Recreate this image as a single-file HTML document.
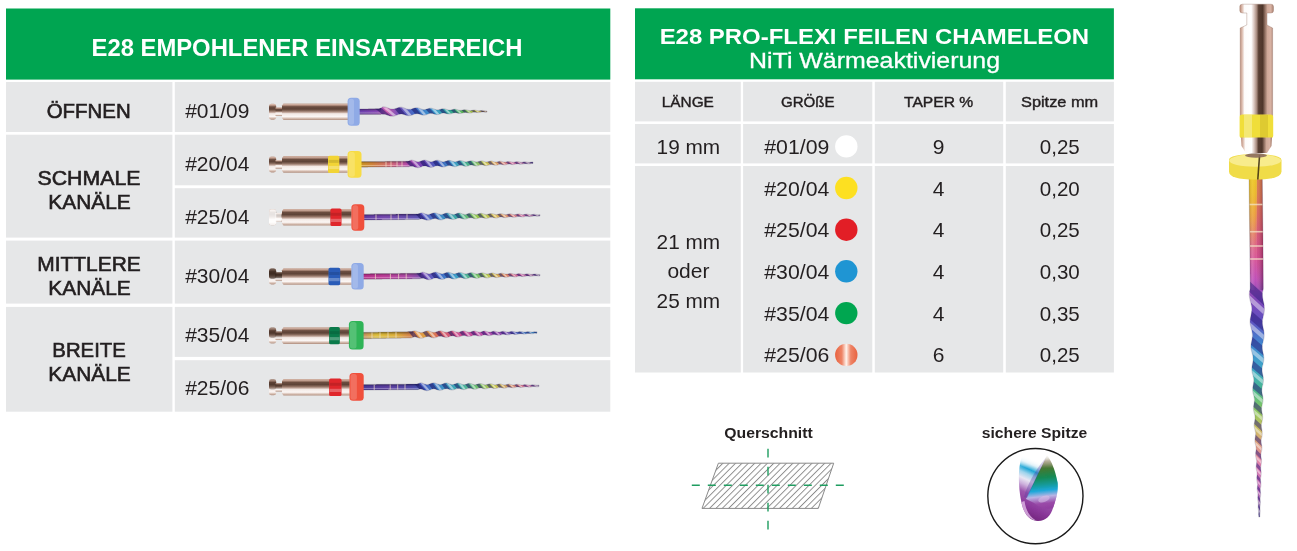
<!DOCTYPE html>
<html lang="de"><head><meta charset="utf-8"><title>E28 Pro-Flexi Feilen Chameleon</title>
<style>html,body{margin:0;padding:0;background:#fff;width:1297px;height:551px;overflow:hidden}svg{display:block}text{white-space:pre}</style></head>
<body>
<svg width="1297" height="551" viewBox="0 0 1297 551" font-family="'Liberation Sans', sans-serif"><defs><linearGradient id="orb" x1="0" x2="1" y1="0" y2="0"><stop offset="0" stop-color="#e8623f"/><stop offset="0.3" stop-color="#ee8466"/><stop offset="0.5" stop-color="#fff3ec"/><stop offset="0.7" stop-color="#ee8466"/><stop offset="1" stop-color="#e8623f"/></linearGradient><pattern id="hatch" width="4.5" height="4.5" patternUnits="userSpaceOnUse" patternTransform="translate(702.6 508.3) rotate(45)"><rect width="4.5" height="4.5" fill="#fff"/><line x1="0.5" y1="-1" x2="0.5" y2="6" stroke="#7f7f7f" stroke-width="0.85"/></pattern><filter id="bl" x="-20%" y="-20%" width="140%" height="140%"><feGaussianBlur stdDeviation="0.6"/></filter><linearGradient id="tipL" gradientUnits="userSpaceOnUse" x1="1044" y1="450" x2="1016" y2="512"><stop offset="0" stop-color="#fff" stop-opacity="0"/><stop offset="0.18" stop-color="#fff" stop-opacity="0"/><stop offset="0.27" stop-color="#d4ecf6" stop-opacity="0.85"/><stop offset="0.35" stop-color="#1fa6d6"/><stop offset="0.42" stop-color="#9fd4ec"/><stop offset="0.5" stop-color="#e8e6f3"/><stop offset="0.58" stop-color="#cdb0dc"/><stop offset="0.68" stop-color="#9c55ad"/><stop offset="0.85" stop-color="#8a379a"/><stop offset="1" stop-color="#74267f"/></linearGradient><linearGradient id="tipR" gradientUnits="userSpaceOnUse" x1="1046" y1="454" x2="1052" y2="512"><stop offset="0" stop-color="#7a6a3a" stop-opacity="0"/><stop offset="0.12" stop-color="#6a5a2c" stop-opacity="0.9"/><stop offset="0.26" stop-color="#3f7a34"/><stop offset="0.4" stop-color="#158a55"/><stop offset="0.52" stop-color="#129a98"/><stop offset="0.62" stop-color="#1fa8da"/><stop offset="0.72" stop-color="#b9b4e4"/><stop offset="0.84" stop-color="#9a4aa8"/><stop offset="1" stop-color="#8a379a"/></linearGradient><linearGradient id="tipF" gradientUnits="userSpaceOnUse" x1="0" y1="450" x2="0" y2="468"><stop offset="0" stop-color="#fff"/><stop offset="0.3" stop-color="#fff" stop-opacity="0.85"/><stop offset="1" stop-color="#fff" stop-opacity="0"/></linearGradient><clipPath id="tipc"><path d="M1022,456 C1017,470 1019,490 1021,500 C1023,514 1030,521 1038,521 C1046,521 1051,515 1053,508 C1057,497 1059,488 1057,480 C1055,470 1052,462 1048,455 Z" transform="translate(1037 488) scale(1.08) translate(-1037 -488)"/></clipPath><linearGradient id="mv" x1="0" y1="0" x2="1" y2="0"><stop offset="0" stop-color="#b98a78"/><stop offset="0.07" stop-color="#dcbcae"/><stop offset="0.14" stop-color="#fdfbfa"/><stop offset="0.34" stop-color="#ffffff"/><stop offset="0.42" stop-color="#dcc9c2"/><stop offset="0.5" stop-color="#a88c80"/><stop offset="0.56" stop-color="#5a4034"/><stop offset="0.68" stop-color="#4e362b"/><stop offset="0.74" stop-color="#8a6a5c"/><stop offset="0.82" stop-color="#cfa999"/><stop offset="0.92" stop-color="#d8b2a3"/><stop offset="1" stop-color="#a67e6e"/></linearGradient><linearGradient id="mh" x1="0" y1="1" x2="0" y2="0"><stop offset="0" stop-color="#b08e7e"/><stop offset="0.1" stop-color="#d8c0b4"/><stop offset="0.2" stop-color="#fbf6f4"/><stop offset="0.38" stop-color="#f3e9e5"/><stop offset="0.46" stop-color="#c0a498"/><stop offset="0.55" stop-color="#8d6e60"/><stop offset="0.66" stop-color="#5e4337"/><stop offset="0.8" stop-color="#6b4d40"/><stop offset="0.88" stop-color="#b08c7c"/><stop offset="0.95" stop-color="#d6b6a8"/><stop offset="1" stop-color="#c0a090"/></linearGradient><linearGradient id="rb1" gradientUnits="userSpaceOnUse" x1="357.7" y1="0" x2="487" y2="0"><stop offset="0" stop-color="#6a3fb0"/><stop offset="0.15" stop-color="#8a48b8"/><stop offset="0.22" stop-color="#d060b0"/><stop offset="0.32" stop-color="#7050b8"/><stop offset="0.45" stop-color="#3f70c8"/><stop offset="0.6" stop-color="#3fa0d0"/><stop offset="0.72" stop-color="#30a890"/><stop offset="0.82" stop-color="#60b850"/><stop offset="0.92" stop-color="#c8c040"/><stop offset="1" stop-color="#907060"/></linearGradient><path id="sp1" d="M357.70,108.90 L358.70,108.90 L359.70,108.90 L360.71,108.89 L361.71,108.89 L362.71,108.89 L363.71,108.89 L364.72,108.88 L365.72,108.88 L366.72,108.88 L367.72,108.88 L368.73,108.87 L369.73,108.87 L370.73,108.87 L371.73,108.87 L372.73,108.87 L373.74,108.86 L374.74,108.86 L375.74,108.86 L376.74,108.86 L377.75,108.85 L378.75,108.85 L379.75,108.60 L380.75,108.09 L381.76,107.39 L382.76,106.86 L383.76,106.77 L384.76,106.88 L385.77,107.13 L386.77,107.46 L387.77,107.85 L388.77,108.25 L389.77,108.61 L390.78,108.88 L391.78,109.05 L392.78,109.09 L393.78,109.00 L394.79,108.80 L395.79,108.51 L396.79,108.17 L397.79,107.79 L398.80,107.46 L399.80,107.23 L400.80,107.14 L401.80,107.21 L402.80,107.42 L403.81,107.75 L404.81,108.15 L405.81,108.55 L406.81,108.91 L407.82,109.18 L408.82,109.31 L409.82,109.30 L410.82,109.15 L411.83,108.89 L412.83,108.56 L413.83,108.20 L414.83,107.88 L415.83,107.68 L416.84,107.63 L417.84,107.76 L418.84,108.03 L419.84,108.40 L420.85,108.80 L421.85,109.17 L422.85,109.44 L423.85,109.57 L424.86,109.54 L425.86,109.37 L426.86,109.09 L427.86,108.77 L428.87,108.43 L429.87,108.20 L430.87,108.14 L431.87,108.25 L432.87,108.52 L433.88,108.89 L434.88,109.27 L435.88,109.60 L436.88,109.79 L437.89,109.83 L438.89,109.70 L439.89,109.46 L440.89,109.16 L441.90,108.85 L442.90,108.67 L443.90,108.66 L444.90,108.83 L445.90,109.14 L446.91,109.51 L447.91,109.84 L448.91,110.04 L449.91,110.08 L450.92,109.96 L451.92,109.72 L452.92,109.44 L453.92,109.20 L454.93,109.12 L455.93,109.23 L456.93,109.50 L457.93,109.83 L458.93,110.13 L459.94,110.31 L460.94,110.31 L461.94,110.17 L462.94,109.94 L463.95,109.70 L464.95,109.58 L465.95,109.65 L466.95,109.88 L467.96,110.18 L468.96,110.43 L469.96,110.56 L470.96,110.51 L471.97,110.35 L472.97,110.15 L473.97,110.02 L474.97,110.05 L475.97,110.24 L476.98,110.50 L477.98,110.70 L478.98,110.77 L479.98,110.70 L480.99,110.56 L481.99,110.42 L482.99,110.42 L483.99,110.57 L485.00,110.77 L486.00,110.93 L487.00,110.97 L487.00,112.17 L486.00,112.21 L485.00,112.13 L483.99,112.01 L482.99,111.94 L481.99,112.02 L480.99,112.23 L479.98,112.46 L478.98,112.61 L477.98,112.61 L476.98,112.49 L475.97,112.31 L474.97,112.19 L473.97,112.24 L472.97,112.44 L471.97,112.72 L470.96,112.96 L469.96,113.08 L468.96,113.03 L467.96,112.85 L466.95,112.63 L465.95,112.47 L464.95,112.48 L463.95,112.67 L462.94,112.98 L461.94,113.28 L460.94,113.50 L459.94,113.57 L458.93,113.47 L457.93,113.24 L456.93,112.98 L455.93,112.78 L454.93,112.74 L453.92,112.89 L452.92,113.20 L451.92,113.56 L450.92,113.86 L449.91,114.05 L448.91,114.08 L447.91,113.95 L446.91,113.69 L445.90,113.39 L444.90,113.15 L443.90,113.04 L442.90,113.11 L441.90,113.37 L440.89,113.74 L439.89,114.11 L438.89,114.42 L437.89,114.61 L436.88,114.64 L435.88,114.50 L434.88,114.24 L433.88,113.92 L432.87,113.62 L431.87,113.41 L430.87,113.36 L429.87,113.49 L428.87,113.78 L427.86,114.17 L426.86,114.56 L425.86,114.89 L424.86,115.13 L423.85,115.21 L422.85,115.14 L421.85,114.93 L420.85,114.62 L419.84,114.27 L418.84,113.96 L417.84,113.75 L416.84,113.68 L415.83,113.78 L414.83,114.04 L413.83,114.41 L412.83,114.83 L411.83,115.21 L410.82,115.52 L409.82,115.72 L408.82,115.78 L407.82,115.70 L406.81,115.49 L405.81,115.18 L404.81,114.82 L403.81,114.47 L402.80,114.19 L401.80,114.03 L400.80,114.01 L399.80,114.14 L398.80,114.41 L397.79,114.79 L396.79,115.21 L395.79,115.59 L394.79,115.92 L393.78,116.17 L392.78,116.30 L391.78,116.29 L390.78,116.16 L389.77,115.92 L388.77,115.60 L387.77,115.23 L386.77,114.88 L385.77,114.57 L384.76,114.36 L383.76,114.27 L382.76,114.27 L381.76,114.33 L380.75,114.55 L379.75,114.58 L378.75,114.45 L377.75,114.45 L376.74,114.46 L375.74,114.46 L374.74,114.46 L373.74,114.46 L372.73,114.47 L371.73,114.47 L370.73,114.47 L369.73,114.47 L368.73,114.47 L367.72,114.48 L366.72,114.48 L365.72,114.48 L364.72,114.48 L363.71,114.49 L362.71,114.49 L361.71,114.49 L360.71,114.49 L359.70,114.50 L358.70,114.50 L357.70,114.50Z"/><clipPath id="cp1"><use href="#sp1"/></clipPath><linearGradient id="sh1" gradientUnits="userSpaceOnUse" x1="0" y1="108.9" x2="0" y2="114.5"><stop offset="0" stop-color="#000" stop-opacity="0.35"/><stop offset="0.45" stop-color="#000" stop-opacity="0.0"/><stop offset="0.7" stop-color="#fff" stop-opacity="0.32"/><stop offset="1" stop-color="#000" stop-opacity="0.25"/></linearGradient><linearGradient id="rb2" gradientUnits="userSpaceOnUse" x1="359.5" y1="0" x2="533" y2="0"><stop offset="0" stop-color="#d8a020"/><stop offset="0.08" stop-color="#dc8840"/><stop offset="0.18" stop-color="#e07080"/><stop offset="0.27" stop-color="#c050b0"/><stop offset="0.36" stop-color="#7040b0"/><stop offset="0.46" stop-color="#4060c0"/><stop offset="0.55" stop-color="#40a0c8"/><stop offset="0.64" stop-color="#50b880"/><stop offset="0.72" stop-color="#c8c850"/><stop offset="0.8" stop-color="#e0a070"/><stop offset="0.88" stop-color="#d070a0"/><stop offset="1" stop-color="#8878a0"/></linearGradient><path id="sp2" d="M359.50,161.60 L360.50,161.59 L361.51,161.58 L362.51,161.57 L363.51,161.57 L364.51,161.56 L365.52,161.55 L366.52,161.54 L367.52,161.53 L368.53,161.52 L369.53,161.51 L370.53,161.50 L371.53,161.50 L372.54,161.49 L373.54,161.48 L374.54,161.47 L375.55,161.46 L376.55,161.45 L377.55,161.44 L378.55,161.44 L379.56,161.43 L380.56,161.42 L381.56,161.41 L382.57,161.40 L383.57,161.39 L384.57,161.38 L385.58,161.37 L386.58,161.37 L387.58,161.36 L388.58,161.35 L389.59,161.34 L390.59,161.33 L391.59,161.32 L392.60,161.31 L393.60,161.31 L394.60,161.30 L395.60,161.29 L396.61,161.28 L397.61,161.27 L398.61,161.26 L399.62,161.25 L400.62,161.24 L401.62,161.24 L402.62,161.23 L403.63,161.22 L404.63,161.21 L405.63,161.20 L406.64,161.19 L407.64,161.18 L408.64,161.08 L409.64,160.74 L410.65,160.27 L411.65,160.04 L412.65,160.16 L413.66,160.45 L414.66,160.83 L415.66,161.22 L416.66,161.53 L417.67,161.70 L418.67,161.69 L419.67,161.51 L420.68,161.19 L421.68,160.81 L422.68,160.43 L423.68,160.16 L424.69,160.07 L425.69,160.17 L426.69,160.44 L427.70,160.82 L428.70,161.22 L429.70,161.54 L430.71,161.71 L431.71,161.69 L432.71,161.49 L433.71,161.16 L434.72,160.77 L435.72,160.42 L436.72,160.22 L437.73,160.20 L438.73,160.39 L439.73,160.73 L440.73,161.13 L441.74,161.48 L442.74,161.71 L443.74,161.74 L444.75,161.58 L445.75,161.28 L446.75,160.90 L447.75,160.56 L448.76,160.36 L449.76,160.36 L450.76,160.56 L451.77,160.91 L452.77,161.30 L453.77,161.62 L454.77,161.78 L455.78,161.74 L456.78,161.52 L457.78,161.18 L458.79,160.82 L459.79,160.56 L460.79,160.50 L461.79,160.65 L462.80,160.96 L463.80,161.34 L464.80,161.67 L465.81,161.84 L466.81,161.80 L467.81,161.58 L468.82,161.25 L469.82,160.91 L470.82,160.70 L471.82,160.69 L472.83,160.90 L473.83,161.24 L474.83,161.59 L475.84,161.84 L476.84,161.90 L477.84,161.76 L478.84,161.47 L479.85,161.14 L480.85,160.90 L481.85,160.86 L482.86,161.03 L483.86,161.35 L484.86,161.69 L485.86,161.92 L486.87,161.96 L487.87,161.80 L488.87,161.52 L489.88,161.22 L490.88,161.04 L491.88,161.08 L492.88,161.31 L493.89,161.64 L494.89,161.92 L495.89,162.04 L496.90,161.96 L497.90,161.72 L498.90,161.43 L499.90,161.24 L500.91,161.25 L501.91,161.45 L502.91,161.75 L503.92,162.01 L504.92,162.11 L505.92,162.01 L506.92,161.78 L507.93,161.52 L508.93,161.40 L509.93,161.48 L510.94,161.72 L511.94,161.99 L512.94,162.16 L513.95,162.15 L514.95,161.98 L515.95,161.74 L516.95,161.59 L517.96,161.62 L518.96,161.82 L519.96,162.07 L520.97,162.23 L521.97,162.22 L522.97,162.06 L523.97,161.86 L524.98,161.76 L525.98,161.83 L526.98,162.03 L527.99,162.24 L528.99,162.32 L529.99,162.25 L530.99,162.08 L532.00,161.95 L533.00,161.95 L533.00,163.45 L532.00,163.50 L530.99,163.69 L529.99,163.90 L528.99,164.02 L527.99,163.99 L526.98,163.83 L525.98,163.68 L524.98,163.66 L523.97,163.81 L522.97,164.07 L521.97,164.27 L520.97,164.33 L519.96,164.22 L518.96,164.02 L517.96,163.87 L516.95,163.88 L515.95,164.08 L514.95,164.37 L513.95,164.59 L512.94,164.65 L511.94,164.53 L510.94,164.30 L509.93,164.11 L508.93,164.08 L507.93,164.25 L506.92,164.55 L505.92,164.83 L504.92,164.98 L503.92,164.93 L502.91,164.71 L501.91,164.46 L500.91,164.30 L499.90,164.33 L498.90,164.57 L497.90,164.91 L496.90,165.19 L495.89,165.32 L494.89,165.24 L493.89,165.01 L492.88,164.73 L491.88,164.54 L490.88,164.54 L489.88,164.76 L488.87,165.11 L487.87,165.44 L486.87,165.64 L485.86,165.64 L484.86,165.45 L483.86,165.15 L482.86,164.88 L481.85,164.75 L480.85,164.83 L479.85,165.11 L478.84,165.49 L477.84,165.82 L476.84,166.00 L475.84,165.98 L474.83,165.78 L473.83,165.46 L472.83,165.16 L471.82,165.00 L470.82,165.04 L469.82,165.29 L468.82,165.67 L467.81,166.04 L466.81,166.30 L465.81,166.38 L464.80,166.25 L463.80,165.96 L462.80,165.62 L461.79,165.34 L460.79,165.23 L459.79,165.33 L458.79,165.63 L457.78,166.03 L456.78,166.40 L455.78,166.66 L454.77,166.74 L453.77,166.61 L452.77,166.33 L451.77,165.97 L450.76,165.66 L449.76,165.49 L448.76,165.52 L447.75,165.75 L446.75,166.13 L445.75,166.54 L444.75,166.88 L443.74,167.07 L442.74,167.07 L441.74,166.88 L440.73,166.56 L439.73,166.19 L438.73,165.89 L437.73,165.73 L436.72,165.77 L435.72,166.01 L434.72,166.39 L433.71,166.80 L432.71,167.16 L431.71,167.39 L430.71,167.44 L429.70,167.30 L428.70,167.00 L427.70,166.64 L426.69,166.28 L425.69,166.03 L424.69,165.96 L423.68,166.08 L422.68,166.37 L421.68,166.77 L420.68,167.18 L419.67,167.52 L418.67,167.72 L417.67,167.75 L416.66,167.60 L415.66,167.31 L414.66,166.94 L413.66,166.58 L412.65,166.30 L411.65,166.16 L410.65,166.25 L409.64,166.58 L408.64,166.77 L407.64,166.78 L406.64,166.79 L405.63,166.80 L404.63,166.81 L403.63,166.82 L402.62,166.83 L401.62,166.84 L400.62,166.84 L399.62,166.85 L398.61,166.86 L397.61,166.87 L396.61,166.88 L395.60,166.89 L394.60,166.90 L393.60,166.91 L392.60,166.91 L391.59,166.92 L390.59,166.93 L389.59,166.94 L388.58,166.95 L387.58,166.96 L386.58,166.97 L385.58,166.97 L384.57,166.98 L383.57,166.99 L382.57,167.00 L381.56,167.01 L380.56,167.02 L379.56,167.03 L378.55,167.04 L377.55,167.04 L376.55,167.05 L375.55,167.06 L374.54,167.07 L373.54,167.08 L372.54,167.09 L371.53,167.10 L370.53,167.10 L369.53,167.11 L368.53,167.12 L367.52,167.13 L366.52,167.14 L365.52,167.15 L364.51,167.16 L363.51,167.17 L362.51,167.17 L361.51,167.18 L360.50,167.19 L359.50,167.20Z"/><clipPath id="cp2"><use href="#sp2"/></clipPath><linearGradient id="sh2" gradientUnits="userSpaceOnUse" x1="0" y1="161.6" x2="0" y2="167.20000000000002"><stop offset="0" stop-color="#000" stop-opacity="0.35"/><stop offset="0.45" stop-color="#000" stop-opacity="0.0"/><stop offset="0.7" stop-color="#fff" stop-opacity="0.32"/><stop offset="1" stop-color="#000" stop-opacity="0.25"/></linearGradient><linearGradient id="rb3" gradientUnits="userSpaceOnUse" x1="362.3" y1="0" x2="540" y2="0"><stop offset="0" stop-color="#5a3aa8"/><stop offset="0.12" stop-color="#7a48b8"/><stop offset="0.25" stop-color="#6a50b8"/><stop offset="0.34" stop-color="#5a58c0"/><stop offset="0.44" stop-color="#3f88c8"/><stop offset="0.54" stop-color="#40b0a0"/><stop offset="0.64" stop-color="#90c850"/><stop offset="0.74" stop-color="#d8c050"/><stop offset="0.82" stop-color="#e09070"/><stop offset="0.9" stop-color="#d070a0"/><stop offset="1" stop-color="#8878a0"/></linearGradient><path id="sp3" d="M362.30,214.50 L363.30,214.49 L364.31,214.48 L365.31,214.47 L366.32,214.45 L367.32,214.44 L368.32,214.43 L369.33,214.42 L370.33,214.41 L371.34,214.40 L372.34,214.39 L373.34,214.38 L374.35,214.36 L375.35,214.35 L376.36,214.34 L377.36,214.33 L378.36,214.32 L379.37,214.31 L380.37,214.30 L381.38,214.29 L382.38,214.27 L383.38,214.26 L384.39,214.25 L385.39,214.24 L386.39,214.23 L387.40,214.22 L388.40,214.21 L389.41,214.19 L390.41,214.18 L391.41,214.17 L392.42,214.16 L393.42,214.15 L394.43,214.14 L395.43,214.13 L396.43,214.12 L397.44,214.10 L398.44,214.09 L399.45,214.08 L400.45,214.07 L401.45,214.06 L402.46,214.05 L403.46,214.04 L404.47,214.03 L405.47,214.01 L406.47,214.00 L407.48,213.99 L408.48,213.98 L409.49,213.97 L410.49,213.96 L411.49,213.95 L412.50,213.94 L413.50,213.92 L414.51,213.91 L415.51,213.90 L416.51,213.89 L417.52,213.88 L418.52,213.81 L419.53,213.52 L420.53,213.09 L421.53,212.85 L422.54,212.93 L423.54,213.20 L424.55,213.56 L425.55,213.94 L426.55,214.25 L427.56,214.43 L428.56,214.44 L429.56,214.27 L430.57,213.98 L431.57,213.61 L432.58,213.23 L433.58,212.95 L434.58,212.84 L435.59,212.92 L436.59,213.17 L437.60,213.53 L438.60,213.91 L439.60,214.23 L440.61,214.40 L441.61,214.40 L442.62,214.22 L443.62,213.90 L444.62,213.53 L445.63,213.18 L446.63,212.96 L447.64,212.94 L448.64,213.11 L449.64,213.42 L450.65,213.81 L451.65,214.15 L452.66,214.37 L453.66,214.41 L454.66,214.26 L455.67,213.97 L456.67,213.60 L457.68,213.26 L458.68,213.06 L459.68,213.06 L460.69,213.25 L461.69,213.59 L462.70,213.96 L463.70,214.27 L464.70,214.42 L465.71,214.38 L466.71,214.16 L467.72,213.83 L468.72,213.47 L469.72,213.23 L470.73,213.17 L471.73,213.32 L472.74,213.63 L473.74,214.00 L474.74,214.30 L475.75,214.45 L476.75,214.39 L477.75,214.17 L478.76,213.84 L479.76,213.51 L480.77,213.33 L481.77,213.34 L482.77,213.56 L483.78,213.90 L484.78,214.23 L485.79,214.45 L486.79,214.47 L487.79,214.30 L488.80,214.00 L489.80,213.69 L490.81,213.48 L491.81,213.48 L492.81,213.69 L493.82,214.01 L494.82,214.32 L495.83,214.50 L496.83,214.49 L497.83,214.29 L498.84,214.00 L499.84,213.72 L500.85,213.61 L501.85,213.71 L502.85,213.97 L503.86,214.28 L504.86,214.51 L505.87,214.56 L506.87,214.41 L507.87,214.15 L508.88,213.89 L509.88,213.77 L510.89,213.85 L511.89,214.10 L512.89,214.39 L513.90,214.58 L514.90,214.59 L515.91,214.42 L516.91,214.16 L517.91,213.96 L518.92,213.93 L519.92,214.10 L520.92,214.36 L521.93,214.58 L522.93,214.65 L523.94,214.54 L524.94,214.32 L525.94,214.13 L526.95,214.08 L527.95,214.22 L528.96,214.45 L529.96,214.65 L530.96,214.70 L531.97,214.58 L532.97,214.38 L533.98,214.24 L534.98,214.26 L535.98,214.43 L536.99,214.63 L537.99,214.74 L539.00,214.70 L540.00,214.56 L540.00,216.06 L539.00,216.25 L537.99,216.34 L536.99,216.28 L535.98,216.12 L534.98,216.01 L533.98,216.04 L532.97,216.23 L531.97,216.47 L530.96,216.64 L529.96,216.64 L528.96,216.50 L527.95,216.31 L526.95,216.22 L525.94,216.31 L524.94,216.56 L523.94,216.82 L522.93,216.98 L521.93,216.96 L520.92,216.78 L519.92,216.57 L518.92,216.45 L517.91,216.53 L516.91,216.77 L515.91,217.07 L514.90,217.29 L513.90,217.33 L512.89,217.18 L511.89,216.94 L510.89,216.74 L509.88,216.70 L508.88,216.86 L507.87,217.17 L506.87,217.48 L505.87,217.67 L504.86,217.66 L503.86,217.48 L502.85,217.21 L501.85,216.99 L500.85,216.94 L499.84,217.10 L498.84,217.42 L497.83,217.75 L496.83,217.99 L495.83,218.05 L494.82,217.91 L493.82,217.64 L492.81,217.36 L491.81,217.20 L490.81,217.24 L489.80,217.49 L488.80,217.85 L487.79,218.18 L486.79,218.39 L485.79,218.41 L484.78,218.24 L483.78,217.94 L482.77,217.65 L481.77,217.47 L480.77,217.49 L479.76,217.72 L478.76,218.08 L477.75,218.45 L476.75,218.72 L475.75,218.81 L474.74,218.70 L473.74,218.44 L472.74,218.11 L471.73,217.84 L470.73,217.72 L469.72,217.81 L468.72,218.10 L467.72,218.49 L466.71,218.85 L465.71,219.11 L464.70,219.19 L463.70,219.08 L462.70,218.80 L461.69,218.46 L460.69,218.16 L459.68,218.00 L458.68,218.04 L457.68,218.28 L456.67,218.65 L455.67,219.05 L454.66,219.37 L453.66,219.56 L452.66,219.55 L451.65,219.36 L450.65,219.05 L449.64,218.70 L448.64,218.41 L447.64,218.27 L446.63,218.33 L445.63,218.57 L444.62,218.95 L443.62,219.35 L442.62,219.70 L441.61,219.91 L440.61,219.94 L439.60,219.79 L438.60,219.51 L437.60,219.15 L436.59,218.82 L435.59,218.59 L434.58,218.54 L433.58,218.67 L432.58,218.98 L431.57,219.38 L430.57,219.77 L429.56,220.09 L428.56,220.27 L427.56,220.28 L426.55,220.13 L425.55,219.84 L424.55,219.48 L423.54,219.13 L422.54,218.88 L421.53,218.77 L420.53,218.93 L419.53,219.26 L418.52,219.46 L417.52,219.48 L416.51,219.49 L415.51,219.50 L414.51,219.51 L413.50,219.52 L412.50,219.54 L411.49,219.55 L410.49,219.56 L409.49,219.57 L408.48,219.58 L407.48,219.59 L406.47,219.60 L405.47,219.61 L404.47,219.63 L403.46,219.64 L402.46,219.65 L401.45,219.66 L400.45,219.67 L399.45,219.68 L398.44,219.69 L397.44,219.70 L396.43,219.72 L395.43,219.73 L394.43,219.74 L393.42,219.75 L392.42,219.76 L391.41,219.77 L390.41,219.78 L389.41,219.79 L388.40,219.81 L387.40,219.82 L386.39,219.83 L385.39,219.84 L384.39,219.85 L383.38,219.86 L382.38,219.87 L381.38,219.89 L380.37,219.90 L379.37,219.91 L378.36,219.92 L377.36,219.93 L376.36,219.94 L375.35,219.95 L374.35,219.96 L373.34,219.98 L372.34,219.99 L371.34,220.00 L370.33,220.01 L369.33,220.02 L368.32,220.03 L367.32,220.04 L366.32,220.05 L365.31,220.07 L364.31,220.08 L363.30,220.09 L362.30,220.10Z"/><clipPath id="cp3"><use href="#sp3"/></clipPath><linearGradient id="sh3" gradientUnits="userSpaceOnUse" x1="0" y1="214.5" x2="0" y2="220.10000000000002"><stop offset="0" stop-color="#000" stop-opacity="0.35"/><stop offset="0.45" stop-color="#000" stop-opacity="0.0"/><stop offset="0.7" stop-color="#fff" stop-opacity="0.32"/><stop offset="1" stop-color="#000" stop-opacity="0.25"/></linearGradient><linearGradient id="rb4" gradientUnits="userSpaceOnUse" x1="361.7" y1="0" x2="540" y2="0"><stop offset="0" stop-color="#c03090"/><stop offset="0.12" stop-color="#c840a0"/><stop offset="0.25" stop-color="#b850b0"/><stop offset="0.36" stop-color="#7050b8"/><stop offset="0.45" stop-color="#4070c8"/><stop offset="0.54" stop-color="#40a8c8"/><stop offset="0.63" stop-color="#60c070"/><stop offset="0.72" stop-color="#c8c850"/><stop offset="0.8" stop-color="#e09060"/><stop offset="0.88" stop-color="#d060a0"/><stop offset="1" stop-color="#8878a0"/></linearGradient><path id="sp4" d="M361.70,273.70 L362.70,273.69 L363.70,273.68 L364.71,273.67 L365.71,273.67 L366.71,273.66 L367.71,273.65 L368.71,273.64 L369.71,273.63 L370.72,273.62 L371.72,273.62 L372.72,273.61 L373.72,273.60 L374.72,273.59 L375.72,273.58 L376.73,273.57 L377.73,273.57 L378.73,273.56 L379.73,273.55 L380.73,273.54 L381.73,273.53 L382.74,273.52 L383.74,273.51 L384.74,273.51 L385.74,273.50 L386.74,273.49 L387.74,273.48 L388.75,273.47 L389.75,273.46 L390.75,273.46 L391.75,273.45 L392.75,273.44 L393.75,273.43 L394.76,273.42 L395.76,273.41 L396.76,273.41 L397.76,273.40 L398.76,273.39 L399.76,273.38 L400.77,273.37 L401.77,273.36 L402.77,273.35 L403.77,273.35 L404.77,273.34 L405.77,273.33 L406.78,273.32 L407.78,273.31 L408.78,273.30 L409.78,273.30 L410.78,273.29 L411.78,273.28 L412.79,273.27 L413.79,273.26 L414.79,273.25 L415.79,273.24 L416.79,273.24 L417.79,273.23 L418.80,273.22 L419.80,273.07 L420.80,272.71 L421.80,272.24 L422.80,272.08 L423.80,272.23 L424.81,272.54 L425.81,272.93 L426.81,273.31 L427.81,273.61 L428.81,273.75 L429.81,273.72 L430.82,273.51 L431.82,273.18 L432.82,272.80 L433.82,272.43 L434.82,272.18 L435.82,272.12 L436.83,272.25 L437.83,272.54 L438.83,272.93 L439.83,273.32 L440.83,273.62 L441.83,273.77 L442.84,273.72 L443.84,273.50 L444.84,273.16 L445.84,272.77 L446.84,272.44 L447.84,272.26 L448.85,272.28 L449.85,272.50 L450.85,272.85 L451.85,273.25 L452.85,273.59 L453.86,273.78 L454.86,273.79 L455.86,273.60 L456.86,273.28 L457.86,272.90 L458.86,272.58 L459.87,272.41 L460.87,272.46 L461.87,272.70 L462.87,273.06 L463.87,273.45 L464.87,273.74 L465.88,273.86 L466.88,273.78 L467.88,273.53 L468.88,273.18 L469.88,272.83 L470.88,272.62 L471.89,272.60 L472.89,272.80 L473.89,273.14 L474.89,273.52 L475.89,273.81 L476.89,273.92 L477.90,273.83 L478.90,273.58 L479.90,273.23 L480.90,272.92 L481.90,272.77 L482.90,272.84 L483.91,273.10 L484.91,273.45 L485.91,273.78 L486.91,273.97 L487.91,273.96 L488.91,273.76 L489.92,273.45 L490.92,273.14 L491.92,272.97 L492.92,273.02 L493.92,273.26 L494.92,273.60 L495.93,273.91 L496.93,274.06 L497.93,274.01 L498.93,273.78 L499.93,273.48 L500.93,273.23 L501.94,273.16 L502.94,273.30 L503.94,273.59 L504.94,273.91 L505.94,274.11 L506.94,274.12 L507.95,273.94 L508.95,273.67 L509.95,273.43 L510.95,273.35 L511.95,273.49 L512.95,273.76 L513.96,274.05 L514.96,274.21 L515.96,274.18 L516.96,273.98 L517.96,273.73 L518.96,273.56 L519.97,273.58 L520.97,273.78 L521.97,274.06 L522.97,274.26 L523.97,274.28 L524.97,274.14 L525.98,273.92 L526.98,273.76 L527.98,273.76 L528.98,273.94 L529.98,274.18 L530.98,274.35 L531.99,274.35 L532.99,274.21 L533.99,274.02 L534.99,273.92 L535.99,273.99 L536.99,274.18 L538.00,274.37 L539.00,274.45 L540.00,274.38 L540.00,275.88 L539.00,276.00 L538.00,275.98 L536.99,275.84 L535.99,275.70 L534.99,275.68 L533.99,275.83 L532.99,276.08 L531.99,276.27 L530.98,276.31 L529.98,276.20 L528.98,276.01 L527.98,275.88 L526.98,275.92 L525.98,276.14 L524.97,276.41 L523.97,276.60 L522.97,276.63 L521.97,276.48 L520.97,276.25 L519.97,276.10 L518.96,276.13 L517.96,276.34 L516.96,276.65 L515.96,276.89 L514.96,276.97 L513.96,276.86 L512.95,276.62 L511.95,276.39 L510.95,276.31 L509.95,276.43 L508.95,276.72 L507.95,277.04 L506.94,277.27 L505.94,277.30 L504.94,277.15 L503.94,276.88 L502.94,276.63 L501.94,276.54 L500.93,276.65 L499.93,276.95 L498.93,277.30 L497.93,277.57 L496.93,277.66 L495.93,277.56 L494.92,277.30 L493.92,277.00 L492.92,276.80 L491.92,276.80 L490.92,277.01 L489.92,277.36 L488.91,277.72 L487.91,277.96 L486.91,278.02 L485.91,277.87 L484.91,277.58 L483.91,277.27 L482.90,277.05 L481.90,277.03 L480.90,277.22 L479.90,277.57 L478.90,277.96 L477.90,278.26 L476.89,278.39 L475.89,278.31 L474.89,278.06 L473.89,277.73 L472.89,277.43 L471.89,277.27 L470.88,277.32 L469.88,277.57 L468.88,277.96 L467.88,278.34 L466.88,278.64 L465.88,278.75 L464.87,278.67 L463.87,278.42 L462.87,278.07 L461.87,277.74 L460.87,277.54 L459.87,277.53 L458.86,277.73 L457.86,278.09 L456.86,278.50 L455.86,278.85 L454.86,279.08 L453.86,279.11 L452.85,278.95 L451.85,278.64 L450.85,278.28 L449.85,277.96 L448.85,277.77 L447.84,277.78 L446.84,277.99 L445.84,278.36 L444.84,278.78 L443.84,279.14 L442.84,279.40 L441.83,279.47 L440.83,279.36 L439.83,279.09 L438.83,278.72 L437.83,278.36 L436.83,278.10 L435.82,277.99 L434.82,278.08 L433.82,278.35 L432.82,278.75 L431.82,279.16 L430.82,279.51 L429.81,279.74 L428.81,279.79 L427.81,279.67 L426.81,279.40 L425.81,279.04 L424.81,278.67 L423.80,278.37 L422.80,278.21 L421.80,278.24 L420.80,278.57 L419.80,278.79 L418.80,278.82 L417.79,278.83 L416.79,278.84 L415.79,278.84 L414.79,278.85 L413.79,278.86 L412.79,278.87 L411.78,278.88 L410.78,278.89 L409.78,278.90 L408.78,278.90 L407.78,278.91 L406.78,278.92 L405.77,278.93 L404.77,278.94 L403.77,278.95 L402.77,278.95 L401.77,278.96 L400.77,278.97 L399.76,278.98 L398.76,278.99 L397.76,279.00 L396.76,279.01 L395.76,279.01 L394.76,279.02 L393.75,279.03 L392.75,279.04 L391.75,279.05 L390.75,279.06 L389.75,279.06 L388.75,279.07 L387.74,279.08 L386.74,279.09 L385.74,279.10 L384.74,279.11 L383.74,279.11 L382.74,279.12 L381.73,279.13 L380.73,279.14 L379.73,279.15 L378.73,279.16 L377.73,279.17 L376.73,279.17 L375.72,279.18 L374.72,279.19 L373.72,279.20 L372.72,279.21 L371.72,279.22 L370.72,279.22 L369.71,279.23 L368.71,279.24 L367.71,279.25 L366.71,279.26 L365.71,279.27 L364.71,279.27 L363.70,279.28 L362.70,279.29 L361.70,279.30Z"/><clipPath id="cp4"><use href="#sp4"/></clipPath><linearGradient id="sh4" gradientUnits="userSpaceOnUse" x1="0" y1="273.7" x2="0" y2="279.3"><stop offset="0" stop-color="#000" stop-opacity="0.35"/><stop offset="0.45" stop-color="#000" stop-opacity="0.0"/><stop offset="0.7" stop-color="#fff" stop-opacity="0.32"/><stop offset="1" stop-color="#000" stop-opacity="0.25"/></linearGradient><linearGradient id="rb5" gradientUnits="userSpaceOnUse" x1="361.6" y1="0" x2="537" y2="0"><stop offset="0" stop-color="#d09070"/><stop offset="0.08" stop-color="#e8c840"/><stop offset="0.2" stop-color="#e8b840"/><stop offset="0.28" stop-color="#e08850"/><stop offset="0.36" stop-color="#e0a040"/><stop offset="0.45" stop-color="#d86060"/><stop offset="0.55" stop-color="#d05090"/><stop offset="0.68" stop-color="#c050a8"/><stop offset="0.8" stop-color="#9050b0"/><stop offset="0.9" stop-color="#5070c0"/><stop offset="1" stop-color="#4090c0"/></linearGradient><path id="sp5" d="M361.60,332.40 L362.60,332.38 L363.60,332.37 L364.61,332.35 L365.61,332.33 L366.61,332.31 L367.61,332.30 L368.62,332.28 L369.62,332.26 L370.62,332.25 L371.62,332.23 L372.63,332.21 L373.63,332.19 L374.63,332.18 L375.63,332.16 L376.63,332.14 L377.64,332.13 L378.64,332.11 L379.64,332.09 L380.64,332.07 L381.65,332.06 L382.65,332.04 L383.65,332.02 L384.65,332.01 L385.65,331.99 L386.66,331.97 L387.66,331.95 L388.66,331.94 L389.66,331.92 L390.67,331.90 L391.67,331.89 L392.67,331.87 L393.67,331.85 L394.68,331.83 L395.68,331.82 L396.68,331.80 L397.68,331.78 L398.68,331.77 L399.69,331.75 L400.69,331.73 L401.69,331.71 L402.69,331.70 L403.70,331.68 L404.70,331.66 L405.70,331.65 L406.70,331.63 L407.71,331.61 L408.71,331.59 L409.71,331.58 L410.71,331.56 L411.71,331.51 L412.72,331.26 L413.72,330.91 L414.72,330.87 L415.72,331.03 L416.73,331.31 L417.73,331.67 L418.73,332.04 L419.73,332.32 L420.73,332.47 L421.74,332.44 L422.74,332.24 L423.74,331.92 L424.74,331.54 L425.75,331.16 L426.75,330.91 L427.75,330.82 L428.75,330.92 L429.76,331.18 L430.76,331.55 L431.76,331.92 L432.76,332.21 L433.76,332.36 L434.77,332.32 L435.77,332.11 L436.77,331.78 L437.77,331.39 L438.78,331.05 L439.78,330.85 L440.78,330.84 L441.78,331.02 L442.79,331.34 L443.79,331.72 L444.79,332.05 L445.79,332.25 L446.79,332.26 L447.80,332.10 L448.80,331.79 L449.80,331.41 L450.80,331.07 L451.81,330.87 L452.81,330.87 L453.81,331.07 L454.81,331.40 L455.81,331.77 L456.82,332.07 L457.82,332.21 L458.82,332.16 L459.82,331.93 L460.83,331.60 L461.83,331.23 L462.83,330.98 L463.83,330.90 L464.84,331.04 L465.84,331.34 L466.84,331.70 L467.84,332.01 L468.84,332.16 L469.85,332.12 L470.85,331.90 L471.85,331.57 L472.85,331.23 L473.86,331.01 L474.86,330.99 L475.86,331.17 L476.86,331.50 L477.87,331.83 L478.87,332.07 L479.87,332.13 L480.87,331.99 L481.87,331.70 L482.88,331.37 L483.88,331.12 L484.88,331.06 L485.88,331.20 L486.89,331.50 L487.89,331.83 L488.89,332.06 L489.89,332.10 L490.89,331.95 L491.90,331.66 L492.90,331.35 L493.90,331.16 L494.90,331.17 L495.91,331.38 L496.91,331.68 L497.91,331.96 L498.91,332.09 L499.92,332.01 L500.92,331.78 L501.92,331.49 L502.92,331.27 L503.92,331.25 L504.93,331.42 L505.93,331.70 L506.93,331.96 L507.93,332.07 L508.94,331.99 L509.94,331.76 L510.94,331.50 L511.94,331.34 L512.95,331.37 L513.95,331.58 L514.95,331.85 L515.95,332.04 L516.95,332.05 L517.96,331.89 L518.96,331.64 L519.96,331.46 L520.96,331.44 L521.97,331.61 L522.97,331.85 L523.97,332.03 L524.97,332.05 L525.97,331.90 L526.98,331.69 L527.98,331.54 L528.98,331.56 L529.98,331.73 L530.99,331.94 L531.99,332.06 L532.99,332.01 L533.99,331.85 L535.00,331.68 L536.00,331.63 L537.00,331.73 L537.00,333.23 L536.00,333.18 L535.00,333.27 L533.99,333.49 L532.99,333.70 L531.99,333.80 L530.99,333.73 L529.98,333.57 L528.98,333.44 L527.98,333.47 L526.98,333.66 L525.97,333.93 L524.97,334.12 L523.97,334.15 L522.97,334.01 L521.97,333.82 L520.96,333.70 L519.96,333.76 L518.96,333.99 L517.96,334.28 L516.95,334.48 L515.95,334.52 L514.95,334.38 L513.95,334.16 L512.95,333.99 L511.94,334.00 L510.94,334.21 L509.94,334.52 L508.94,334.79 L507.93,334.92 L506.93,334.85 L505.93,334.63 L504.93,334.39 L503.92,334.26 L502.92,334.33 L501.92,334.59 L500.92,334.93 L499.92,335.20 L498.91,335.32 L497.91,335.23 L496.91,335.00 L495.91,334.73 L494.90,334.57 L493.90,334.60 L492.90,334.84 L491.90,335.19 L490.89,335.51 L489.89,335.71 L488.89,335.70 L487.89,335.52 L486.89,335.23 L485.88,334.98 L484.88,334.87 L483.88,334.97 L482.88,335.26 L481.87,335.63 L480.87,335.96 L479.87,336.14 L478.87,336.12 L477.87,335.92 L476.86,335.62 L475.86,335.34 L474.86,335.19 L473.86,335.25 L472.85,335.50 L471.85,335.88 L470.85,336.25 L469.85,336.51 L468.84,336.59 L467.84,336.47 L466.84,336.20 L465.84,335.87 L464.84,335.61 L463.83,335.51 L462.83,335.62 L461.83,335.91 L460.83,336.31 L459.82,336.68 L458.82,336.94 L457.82,337.03 L456.82,336.92 L455.81,336.65 L454.81,336.32 L453.81,336.02 L452.81,335.86 L451.81,335.89 L450.80,336.12 L449.80,336.50 L448.80,336.90 L447.80,337.24 L446.79,337.44 L445.79,337.46 L444.79,337.29 L443.79,336.98 L442.79,336.64 L441.78,336.35 L440.78,336.19 L439.78,336.23 L438.78,336.46 L437.77,336.84 L436.77,337.25 L435.77,337.61 L434.77,337.84 L433.76,337.91 L432.76,337.79 L431.76,337.52 L430.76,337.18 L429.76,336.84 L428.75,336.60 L427.75,336.52 L426.75,336.63 L425.75,336.92 L424.74,337.31 L423.74,337.72 L422.74,338.06 L421.74,338.27 L420.73,338.32 L419.73,338.20 L418.73,337.93 L417.73,337.59 L416.73,337.24 L415.72,336.97 L414.72,336.86 L413.72,337.02 L412.72,337.48 L411.71,337.84 L410.71,337.96 L409.71,337.98 L408.71,337.99 L407.71,338.01 L406.70,338.03 L405.70,338.05 L404.70,338.06 L403.70,338.08 L402.69,338.10 L401.69,338.11 L400.69,338.13 L399.69,338.15 L398.68,338.17 L397.68,338.18 L396.68,338.20 L395.68,338.22 L394.68,338.23 L393.67,338.25 L392.67,338.27 L391.67,338.29 L390.67,338.30 L389.66,338.32 L388.66,338.34 L387.66,338.35 L386.66,338.37 L385.65,338.39 L384.65,338.41 L383.65,338.42 L382.65,338.44 L381.65,338.46 L380.64,338.47 L379.64,338.49 L378.64,338.51 L377.64,338.53 L376.63,338.54 L375.63,338.56 L374.63,338.58 L373.63,338.59 L372.63,338.61 L371.62,338.63 L370.62,338.65 L369.62,338.66 L368.62,338.68 L367.61,338.70 L366.61,338.71 L365.61,338.73 L364.61,338.75 L363.60,338.77 L362.60,338.78 L361.60,338.80Z"/><clipPath id="cp5"><use href="#sp5"/></clipPath><linearGradient id="sh5" gradientUnits="userSpaceOnUse" x1="0" y1="332.40000000000003" x2="0" y2="338.8"><stop offset="0" stop-color="#000" stop-opacity="0.35"/><stop offset="0.45" stop-color="#000" stop-opacity="0.0"/><stop offset="0.7" stop-color="#fff" stop-opacity="0.32"/><stop offset="1" stop-color="#000" stop-opacity="0.25"/></linearGradient><linearGradient id="rb6" gradientUnits="userSpaceOnUse" x1="361.7" y1="0" x2="539" y2="0"><stop offset="0" stop-color="#4a3aa0"/><stop offset="0.15" stop-color="#6040a8"/><stop offset="0.28" stop-color="#5048b0"/><stop offset="0.36" stop-color="#4060c0"/><stop offset="0.45" stop-color="#3f90c8"/><stop offset="0.55" stop-color="#40b0b0"/><stop offset="0.65" stop-color="#70c070"/><stop offset="0.75" stop-color="#c8c850"/><stop offset="0.85" stop-color="#d89070"/><stop offset="0.93" stop-color="#d070a0"/><stop offset="1" stop-color="#8878a0"/></linearGradient><path id="sp6" d="M361.70,384.50 L362.70,384.49 L363.70,384.48 L364.71,384.47 L365.71,384.47 L366.71,384.46 L367.71,384.45 L368.71,384.44 L369.71,384.43 L370.72,384.42 L371.72,384.42 L372.72,384.41 L373.72,384.40 L374.72,384.39 L375.72,384.38 L376.73,384.37 L377.73,384.36 L378.73,384.36 L379.73,384.35 L380.73,384.34 L381.73,384.33 L382.74,384.32 L383.74,384.31 L384.74,384.31 L385.74,384.30 L386.74,384.29 L387.74,384.28 L388.75,384.27 L389.75,384.26 L390.75,384.25 L391.75,384.25 L392.75,384.24 L393.75,384.23 L394.76,384.22 L395.76,384.21 L396.76,384.20 L397.76,384.19 L398.76,384.19 L399.76,384.18 L400.77,384.17 L401.77,384.16 L402.77,384.15 L403.77,384.14 L404.77,384.14 L405.77,384.13 L406.78,384.12 L407.78,384.11 L408.78,384.10 L409.78,384.09 L410.78,384.08 L411.78,384.08 L412.79,384.07 L413.79,384.06 L414.79,384.05 L415.79,384.04 L416.79,384.03 L417.79,383.87 L418.80,383.47 L419.80,382.97 L420.80,382.77 L421.80,382.92 L422.80,383.25 L423.81,383.65 L424.81,384.04 L425.81,384.34 L426.81,384.49 L427.81,384.46 L428.81,384.25 L429.82,383.91 L430.82,383.51 L431.82,383.13 L432.82,382.88 L433.82,382.81 L434.82,382.95 L435.83,383.25 L436.83,383.65 L437.83,384.05 L438.83,384.36 L439.83,384.51 L440.83,384.47 L441.84,384.24 L442.84,383.89 L443.84,383.49 L444.84,383.15 L445.84,382.96 L446.84,382.98 L447.85,383.20 L448.85,383.57 L449.85,383.98 L450.85,384.33 L451.85,384.53 L452.85,384.54 L453.86,384.35 L454.86,384.02 L455.86,383.63 L456.86,383.30 L457.86,383.12 L458.86,383.16 L459.87,383.41 L460.87,383.78 L461.87,384.18 L462.87,384.49 L463.87,384.62 L464.87,384.54 L465.88,384.28 L466.88,383.93 L467.88,383.56 L468.88,383.34 L469.88,383.32 L470.88,383.51 L471.89,383.86 L472.89,384.25 L473.89,384.55 L474.89,384.68 L475.89,384.60 L476.89,384.34 L477.90,383.99 L478.90,383.67 L479.90,383.50 L480.90,383.55 L481.90,383.81 L482.91,384.17 L483.91,384.52 L484.91,384.73 L485.91,384.73 L486.91,384.54 L487.91,384.22 L488.92,383.90 L489.92,383.71 L490.92,383.74 L491.92,383.97 L492.92,384.32 L493.92,384.64 L494.93,384.82 L495.93,384.79 L496.93,384.57 L497.93,384.27 L498.93,383.99 L499.93,383.90 L500.94,384.02 L501.94,384.31 L502.94,384.64 L503.94,384.87 L504.94,384.90 L505.94,384.74 L506.95,384.47 L507.95,384.21 L508.95,384.10 L509.95,384.21 L510.95,384.48 L511.95,384.78 L512.96,384.97 L513.96,384.97 L514.96,384.79 L515.96,384.53 L516.96,384.34 L517.96,384.32 L518.97,384.50 L519.97,384.78 L520.97,385.01 L521.97,385.08 L522.97,384.96 L523.97,384.74 L524.98,384.55 L525.98,384.51 L526.98,384.66 L527.98,384.91 L528.98,385.11 L529.98,385.15 L530.99,385.04 L531.99,384.84 L532.99,384.71 L533.99,384.73 L534.99,384.91 L535.99,385.12 L537.00,385.24 L538.00,385.20 L539.00,385.06 L539.00,386.56 L538.00,386.75 L537.00,386.84 L535.99,386.78 L534.99,386.62 L533.99,386.50 L532.99,386.53 L531.99,386.72 L530.99,386.97 L529.98,387.14 L528.98,387.14 L527.98,387.00 L526.98,386.80 L525.98,386.70 L524.98,386.79 L523.97,387.04 L522.97,387.31 L521.97,387.48 L520.97,387.46 L519.97,387.28 L518.97,387.06 L517.96,386.93 L516.96,386.99 L515.96,387.24 L514.96,387.55 L513.96,387.78 L512.96,387.83 L511.95,387.69 L510.95,387.43 L509.95,387.21 L508.95,387.16 L507.95,387.31 L506.95,387.62 L505.94,387.95 L504.94,388.15 L503.94,388.17 L502.94,387.99 L501.94,387.70 L500.94,387.46 L499.93,387.39 L498.93,387.53 L497.93,387.85 L496.93,388.21 L495.93,388.47 L494.93,388.55 L493.92,388.42 L492.92,388.14 L491.92,387.84 L490.92,387.65 L489.92,387.66 L488.92,387.90 L487.91,388.27 L486.91,388.62 L485.91,388.86 L484.91,388.91 L483.91,388.74 L482.91,388.44 L481.90,388.12 L480.90,387.91 L479.90,387.90 L478.90,388.11 L477.90,388.48 L476.89,388.87 L475.89,389.17 L474.89,389.29 L473.89,389.20 L472.89,388.94 L471.89,388.59 L470.88,388.29 L469.88,388.13 L468.88,388.19 L467.88,388.46 L466.88,388.86 L465.88,389.26 L464.87,389.55 L463.87,389.67 L462.87,389.58 L461.87,389.31 L460.87,388.95 L459.87,388.61 L458.86,388.41 L457.86,388.40 L456.86,388.61 L455.86,388.99 L454.86,389.41 L453.86,389.77 L452.85,390.00 L451.85,390.03 L450.85,389.86 L449.85,389.54 L448.85,389.17 L447.85,388.84 L446.84,388.65 L445.84,388.66 L444.84,388.88 L443.84,389.26 L442.84,389.69 L441.84,390.07 L440.83,390.33 L439.83,390.40 L438.83,390.28 L437.83,390.00 L436.83,389.63 L435.83,389.26 L434.82,388.98 L433.82,388.87 L432.82,388.97 L431.82,389.25 L430.82,389.65 L429.82,390.08 L428.81,390.44 L427.81,390.67 L426.81,390.73 L425.81,390.60 L424.81,390.32 L423.81,389.95 L422.80,389.57 L421.80,389.26 L420.80,389.09 L419.80,389.10 L418.80,389.42 L417.79,389.63 L416.79,389.63 L415.79,389.64 L414.79,389.65 L413.79,389.66 L412.79,389.67 L411.78,389.68 L410.78,389.68 L409.78,389.69 L408.78,389.70 L407.78,389.71 L406.78,389.72 L405.77,389.73 L404.77,389.74 L403.77,389.74 L402.77,389.75 L401.77,389.76 L400.77,389.77 L399.76,389.78 L398.76,389.79 L397.76,389.79 L396.76,389.80 L395.76,389.81 L394.76,389.82 L393.75,389.83 L392.75,389.84 L391.75,389.85 L390.75,389.85 L389.75,389.86 L388.75,389.87 L387.74,389.88 L386.74,389.89 L385.74,389.90 L384.74,389.91 L383.74,389.91 L382.74,389.92 L381.73,389.93 L380.73,389.94 L379.73,389.95 L378.73,389.96 L377.73,389.96 L376.73,389.97 L375.72,389.98 L374.72,389.99 L373.72,390.00 L372.72,390.01 L371.72,390.02 L370.72,390.02 L369.71,390.03 L368.71,390.04 L367.71,390.05 L366.71,390.06 L365.71,390.07 L364.71,390.07 L363.70,390.08 L362.70,390.09 L361.70,390.10Z"/><clipPath id="cp6"><use href="#sp6"/></clipPath><linearGradient id="sh6" gradientUnits="userSpaceOnUse" x1="0" y1="384.5" x2="0" y2="390.1"><stop offset="0" stop-color="#000" stop-opacity="0.35"/><stop offset="0.45" stop-color="#000" stop-opacity="0.0"/><stop offset="0.7" stop-color="#fff" stop-opacity="0.32"/><stop offset="1" stop-color="#000" stop-opacity="0.25"/></linearGradient><linearGradient id="sdL" gradientUnits="userSpaceOnUse" x1="0" y1="172" x2="0" y2="250"><stop offset="0" stop-color="#f2d21c" stop-opacity="0.55"/><stop offset="0.6" stop-color="#f2c21c" stop-opacity="0.35"/><stop offset="1" stop-color="#f2c21c" stop-opacity="0"/></linearGradient><linearGradient id="sdR" gradientUnits="userSpaceOnUse" x1="0" y1="172" x2="0" y2="290"><stop offset="0" stop-color="#c42070" stop-opacity="0.4"/><stop offset="0.7" stop-color="#c42070" stop-opacity="0.3"/><stop offset="1" stop-color="#c42070" stop-opacity="0"/></linearGradient><linearGradient id="rbv" gradientUnits="userSpaceOnUse" x1="0" y1="172" x2="0" y2="517"><stop offset="0" stop-color="#e8c030"/><stop offset="0.06" stop-color="#e8b038"/><stop offset="0.12" stop-color="#e89050"/><stop offset="0.18" stop-color="#e07078"/><stop offset="0.25" stop-color="#d85898"/><stop offset="0.31" stop-color="#c050b8"/><stop offset="0.37" stop-color="#8048b8"/><stop offset="0.43" stop-color="#6050c0"/><stop offset="0.5" stop-color="#4088d0"/><stop offset="0.57" stop-color="#40a8c8"/><stop offset="0.63" stop-color="#48b890"/><stop offset="0.69" stop-color="#88c860"/><stop offset="0.74" stop-color="#c8c060"/><stop offset="0.79" stop-color="#e0a080"/><stop offset="0.85" stop-color="#e080b0"/><stop offset="0.92" stop-color="#c068b8"/><stop offset="1" stop-color="#8080a8"/></linearGradient><path id="spv" d="M1248.95,172.00 L1248.96,173.00 L1248.97,174.00 L1248.98,175.00 L1248.99,176.00 L1249.00,177.00 L1249.01,178.00 L1249.03,179.00 L1249.04,180.00 L1249.05,181.00 L1249.06,182.00 L1249.07,183.00 L1249.08,184.00 L1249.09,185.00 L1249.10,186.00 L1249.11,187.00 L1249.12,188.00 L1249.13,189.00 L1249.14,190.00 L1249.15,191.00 L1249.16,192.00 L1249.18,193.00 L1249.19,194.00 L1249.20,195.00 L1249.21,196.00 L1249.22,197.00 L1249.23,198.00 L1249.24,199.00 L1249.25,200.00 L1249.26,201.00 L1249.27,202.00 L1249.28,203.00 L1249.29,204.00 L1249.30,205.00 L1249.31,206.00 L1249.33,207.00 L1249.34,208.00 L1249.35,209.00 L1249.36,210.00 L1249.37,211.00 L1249.38,212.00 L1249.39,213.00 L1249.40,214.00 L1249.41,215.00 L1249.42,216.00 L1249.43,217.00 L1249.44,218.00 L1249.45,219.00 L1249.46,220.00 L1249.48,221.00 L1249.49,222.00 L1249.50,223.00 L1249.51,224.00 L1249.52,225.00 L1249.53,226.00 L1249.54,227.00 L1249.55,228.00 L1249.56,229.00 L1249.57,230.00 L1249.58,231.00 L1249.59,232.00 L1249.60,233.00 L1249.61,234.00 L1249.63,235.00 L1249.64,236.00 L1249.65,237.00 L1249.66,238.00 L1249.67,239.00 L1249.68,240.00 L1249.69,241.00 L1249.70,242.00 L1249.71,243.00 L1249.72,244.00 L1249.73,245.00 L1249.74,246.00 L1249.75,247.00 L1249.77,248.00 L1249.78,249.00 L1249.79,250.00 L1249.80,251.00 L1249.81,252.00 L1249.82,253.00 L1249.83,254.00 L1249.84,255.00 L1249.85,256.00 L1249.86,257.00 L1249.87,258.00 L1249.88,259.00 L1249.89,260.00 L1249.90,261.00 L1249.92,262.00 L1249.93,263.00 L1249.94,264.00 L1249.95,265.00 L1249.96,266.00 L1249.97,267.00 L1249.98,268.00 L1249.99,269.00 L1250.00,270.00 L1250.01,271.00 L1250.02,272.00 L1250.03,273.00 L1250.04,274.00 L1250.05,275.00 L1250.07,276.00 L1250.08,277.00 L1250.09,278.00 L1250.10,279.00 L1250.11,280.00 L1250.12,281.00 L1250.13,282.00 L1250.14,283.00 L1250.15,284.00 L1250.16,285.00 L1250.17,286.00 L1250.18,287.00 L1250.19,288.00 L1250.13,289.00 L1249.91,290.00 L1249.58,291.00 L1249.43,292.00 L1249.33,293.00 L1249.27,294.00 L1249.27,295.00 L1249.32,296.00 L1249.42,297.00 L1249.57,298.00 L1249.76,299.00 L1249.98,300.00 L1250.23,301.00 L1250.48,302.00 L1250.74,303.00 L1250.98,304.00 L1251.20,305.00 L1251.39,306.00 L1251.54,307.00 L1251.64,308.00 L1251.69,309.00 L1251.68,310.00 L1251.63,311.00 L1251.54,312.00 L1251.40,313.00 L1251.23,314.00 L1251.05,315.00 L1250.85,316.00 L1250.63,317.00 L1250.43,318.00 L1250.26,319.00 L1250.13,320.00 L1250.05,321.00 L1250.03,322.00 L1250.07,323.00 L1250.17,324.00 L1250.33,325.00 L1250.53,326.00 L1250.77,327.00 L1251.03,328.00 L1251.29,329.00 L1251.56,330.00 L1251.80,331.00 L1252.01,332.00 L1252.18,333.00 L1252.30,334.00 L1252.36,335.00 L1252.36,336.00 L1252.31,337.00 L1252.21,338.00 L1252.07,339.00 L1251.89,340.00 L1251.70,341.00 L1251.49,342.00 L1251.28,343.00 L1251.11,344.00 L1250.98,345.00 L1250.90,346.00 L1250.89,347.00 L1250.95,348.00 L1251.07,349.00 L1251.24,350.00 L1251.47,351.00 L1251.73,352.00 L1252.00,353.00 L1252.27,354.00 L1252.52,355.00 L1252.74,356.00 L1252.91,357.00 L1253.02,358.00 L1253.06,359.00 L1253.05,360.00 L1252.97,361.00 L1252.85,362.00 L1252.68,363.00 L1252.50,364.00 L1252.29,365.00 L1252.09,366.00 L1251.92,367.00 L1251.80,368.00 L1251.75,369.00 L1251.77,370.00 L1251.86,371.00 L1252.02,372.00 L1252.23,373.00 L1252.49,374.00 L1252.76,375.00 L1253.03,376.00 L1253.28,377.00 L1253.49,378.00 L1253.64,379.00 L1253.73,380.00 L1253.74,381.00 L1253.69,382.00 L1253.58,383.00 L1253.43,384.00 L1253.25,385.00 L1253.05,386.00 L1252.85,387.00 L1252.70,388.00 L1252.60,389.00 L1252.58,390.00 L1252.64,391.00 L1252.78,392.00 L1252.98,393.00 L1253.23,394.00 L1253.50,395.00 L1253.77,396.00 L1254.01,397.00 L1254.20,398.00 L1254.34,399.00 L1254.39,400.00 L1254.38,401.00 L1254.29,402.00 L1254.15,403.00 L1253.98,404.00 L1253.79,405.00 L1253.60,406.00 L1253.46,407.00 L1253.38,408.00 L1253.39,409.00 L1253.49,410.00 L1253.66,411.00 L1253.89,412.00 L1254.15,413.00 L1254.42,414.00 L1254.66,415.00 L1254.85,416.00 L1254.97,417.00 L1255.01,418.00 L1254.97,419.00 L1254.87,420.00 L1254.71,421.00 L1254.54,422.00 L1254.35,423.00 L1254.21,424.00 L1254.14,425.00 L1254.15,426.00 L1254.26,427.00 L1254.45,428.00 L1254.69,429.00 L1254.95,430.00 L1255.20,431.00 L1255.40,432.00 L1255.54,433.00 L1255.59,434.00 L1255.56,435.00 L1255.45,436.00 L1255.30,437.00 L1255.13,438.00 L1254.97,439.00 L1254.86,440.00 L1254.84,441.00 L1254.92,442.00 L1255.09,443.00 L1255.31,444.00 L1255.57,445.00 L1255.80,446.00 L1255.99,447.00 L1256.10,448.00 L1256.12,449.00 L1256.06,450.00 L1255.94,451.00 L1255.78,452.00 L1255.62,453.00 L1255.52,454.00 L1255.50,455.00 L1255.59,456.00 L1255.76,457.00 L1255.99,458.00 L1256.23,459.00 L1256.44,460.00 L1256.58,461.00 L1256.62,462.00 L1256.58,463.00 L1256.48,464.00 L1256.34,465.00 L1256.19,466.00 L1256.12,467.00 L1256.13,468.00 L1256.25,469.00 L1256.45,470.00 L1256.67,471.00 L1256.88,472.00 L1257.03,473.00 L1257.09,474.00 L1257.05,475.00 L1256.95,476.00 L1256.82,477.00 L1256.71,478.00 L1256.68,479.00 L1256.75,480.00 L1256.90,481.00 L1257.11,482.00 L1257.31,483.00 L1257.46,484.00 L1257.51,485.00 L1257.48,486.00 L1257.39,487.00 L1257.27,488.00 L1257.20,489.00 L1257.22,490.00 L1257.34,491.00 L1257.53,492.00 L1257.72,493.00 L1257.85,494.00 L1257.91,495.00 L1257.87,496.00 L1257.79,497.00 L1257.70,498.00 L1257.68,499.00 L1257.75,500.00 L1257.90,501.00 L1258.08,502.00 L1258.21,503.00 L1258.27,504.00 L1258.24,505.00 L1258.18,506.00 L1258.12,507.00 L1258.14,508.00 L1258.24,509.00 L1258.39,510.00 L1258.52,511.00 L1258.59,512.00 L1258.59,513.00 L1258.55,514.00 L1258.52,515.00 L1258.55,516.00 L1258.66,517.00 L1259.86,517.00 L1259.83,516.00 L1259.86,515.00 L1259.97,514.00 L1260.08,513.00 L1260.15,512.00 L1260.15,511.00 L1260.08,510.00 L1260.01,509.00 L1259.98,508.00 L1260.03,507.00 L1260.16,506.00 L1260.29,505.00 L1260.38,504.00 L1260.40,503.00 L1260.33,502.00 L1260.23,501.00 L1260.15,500.00 L1260.15,499.00 L1260.24,498.00 L1260.40,497.00 L1260.55,496.00 L1260.65,495.00 L1260.67,494.00 L1260.60,493.00 L1260.48,492.00 L1260.36,491.00 L1260.31,490.00 L1260.35,489.00 L1260.49,488.00 L1260.68,487.00 L1260.84,486.00 L1260.94,485.00 L1260.95,484.00 L1260.87,483.00 L1260.74,482.00 L1260.60,481.00 L1260.51,480.00 L1260.51,479.00 L1260.61,478.00 L1260.79,477.00 L1260.98,476.00 L1261.15,475.00 L1261.25,474.00 L1261.26,473.00 L1261.18,472.00 L1261.03,471.00 L1260.87,470.00 L1260.74,469.00 L1260.69,468.00 L1260.74,467.00 L1260.88,466.00 L1261.09,465.00 L1261.30,464.00 L1261.47,463.00 L1261.57,462.00 L1261.59,461.00 L1261.52,460.00 L1261.37,459.00 L1261.20,458.00 L1261.03,457.00 L1260.92,456.00 L1260.90,455.00 L1260.98,454.00 L1261.15,453.00 L1261.37,452.00 L1261.59,451.00 L1261.78,450.00 L1261.90,449.00 L1261.94,448.00 L1261.90,447.00 L1261.77,446.00 L1261.60,445.00 L1261.41,444.00 L1261.24,443.00 L1261.14,442.00 L1261.12,441.00 L1261.20,440.00 L1261.37,439.00 L1261.60,438.00 L1261.83,437.00 L1262.04,436.00 L1262.20,435.00 L1262.30,434.00 L1262.31,433.00 L1262.23,432.00 L1262.09,431.00 L1261.90,430.00 L1261.70,429.00 L1261.52,428.00 L1261.39,427.00 L1261.35,426.00 L1261.39,425.00 L1261.52,424.00 L1261.72,423.00 L1261.97,422.00 L1262.20,421.00 L1262.42,420.00 L1262.58,419.00 L1262.68,418.00 L1262.70,417.00 L1262.63,416.00 L1262.50,415.00 L1262.32,414.00 L1262.11,413.00 L1261.90,412.00 L1261.73,411.00 L1261.62,410.00 L1261.58,409.00 L1261.63,408.00 L1261.76,407.00 L1261.96,406.00 L1262.20,405.00 L1262.45,404.00 L1262.68,403.00 L1262.87,402.00 L1263.01,401.00 L1263.09,400.00 L1263.08,399.00 L1263.01,398.00 L1262.87,397.00 L1262.68,396.00 L1262.47,395.00 L1262.25,394.00 L1262.06,393.00 L1261.91,392.00 L1261.83,391.00 L1261.82,390.00 L1261.90,389.00 L1262.04,388.00 L1262.25,387.00 L1262.50,386.00 L1262.75,385.00 L1262.99,384.00 L1263.19,383.00 L1263.36,382.00 L1263.46,381.00 L1263.49,380.00 L1263.46,379.00 L1263.36,378.00 L1263.20,377.00 L1263.00,376.00 L1262.78,375.00 L1262.56,374.00 L1262.36,373.00 L1262.19,372.00 L1262.08,371.00 L1262.04,370.00 L1262.07,369.00 L1262.17,368.00 L1262.34,367.00 L1262.56,366.00 L1262.81,365.00 L1263.07,364.00 L1263.30,363.00 L1263.51,362.00 L1263.69,361.00 L1263.81,360.00 L1263.87,359.00 L1263.87,358.00 L1263.81,357.00 L1263.69,356.00 L1263.52,355.00 L1263.32,354.00 L1263.09,353.00 L1262.86,352.00 L1262.65,351.00 L1262.47,350.00 L1262.34,349.00 L1262.26,348.00 L1262.25,347.00 L1262.30,346.00 L1262.42,345.00 L1262.60,344.00 L1262.82,343.00 L1263.07,342.00 L1263.32,341.00 L1263.56,340.00 L1263.77,339.00 L1263.96,338.00 L1264.10,337.00 L1264.20,336.00 L1264.23,335.00 L1264.21,334.00 L1264.14,333.00 L1264.01,332.00 L1263.84,331.00 L1263.63,330.00 L1263.41,329.00 L1263.18,328.00 L1262.96,327.00 L1262.76,326.00 L1262.59,325.00 L1262.48,324.00 L1262.42,323.00 L1262.41,322.00 L1262.47,321.00 L1262.58,320.00 L1262.75,319.00 L1262.95,318.00 L1263.19,317.00 L1263.44,316.00 L1263.67,315.00 L1263.89,314.00 L1264.09,313.00 L1264.26,312.00 L1264.39,311.00 L1264.47,310.00 L1264.50,309.00 L1264.49,308.00 L1264.42,307.00 L1264.30,306.00 L1264.14,305.00 L1263.95,304.00 L1263.73,303.00 L1263.51,302.00 L1263.28,301.00 L1263.06,300.00 L1262.86,299.00 L1262.69,298.00 L1262.57,297.00 L1262.49,296.00 L1262.46,295.00 L1262.48,294.00 L1262.56,293.00 L1262.68,292.00 L1262.85,291.00 L1263.20,290.00 L1263.42,289.00 L1263.49,288.00 L1263.48,287.00 L1263.47,286.00 L1263.46,285.00 L1263.45,284.00 L1263.44,283.00 L1263.43,282.00 L1263.42,281.00 L1263.41,280.00 L1263.40,279.00 L1263.39,278.00 L1263.38,277.00 L1263.37,276.00 L1263.35,275.00 L1263.34,274.00 L1263.33,273.00 L1263.32,272.00 L1263.31,271.00 L1263.30,270.00 L1263.29,269.00 L1263.28,268.00 L1263.27,267.00 L1263.26,266.00 L1263.25,265.00 L1263.24,264.00 L1263.23,263.00 L1263.22,262.00 L1263.20,261.00 L1263.19,260.00 L1263.18,259.00 L1263.17,258.00 L1263.16,257.00 L1263.15,256.00 L1263.14,255.00 L1263.13,254.00 L1263.12,253.00 L1263.11,252.00 L1263.10,251.00 L1263.09,250.00 L1263.08,249.00 L1263.07,248.00 L1263.05,247.00 L1263.04,246.00 L1263.03,245.00 L1263.02,244.00 L1263.01,243.00 L1263.00,242.00 L1262.99,241.00 L1262.98,240.00 L1262.97,239.00 L1262.96,238.00 L1262.95,237.00 L1262.94,236.00 L1262.93,235.00 L1262.91,234.00 L1262.90,233.00 L1262.89,232.00 L1262.88,231.00 L1262.87,230.00 L1262.86,229.00 L1262.85,228.00 L1262.84,227.00 L1262.83,226.00 L1262.82,225.00 L1262.81,224.00 L1262.80,223.00 L1262.79,222.00 L1262.78,221.00 L1262.76,220.00 L1262.75,219.00 L1262.74,218.00 L1262.73,217.00 L1262.72,216.00 L1262.71,215.00 L1262.70,214.00 L1262.69,213.00 L1262.68,212.00 L1262.67,211.00 L1262.66,210.00 L1262.65,209.00 L1262.64,208.00 L1262.63,207.00 L1262.61,206.00 L1262.60,205.00 L1262.59,204.00 L1262.58,203.00 L1262.57,202.00 L1262.56,201.00 L1262.55,200.00 L1262.54,199.00 L1262.53,198.00 L1262.52,197.00 L1262.51,196.00 L1262.50,195.00 L1262.49,194.00 L1262.48,193.00 L1262.46,192.00 L1262.45,191.00 L1262.44,190.00 L1262.43,189.00 L1262.42,188.00 L1262.41,187.00 L1262.40,186.00 L1262.39,185.00 L1262.38,184.00 L1262.37,183.00 L1262.36,182.00 L1262.35,181.00 L1262.34,180.00 L1262.33,179.00 L1262.31,178.00 L1262.30,177.00 L1262.29,176.00 L1262.28,175.00 L1262.27,174.00 L1262.26,173.00 L1262.25,172.00Z"/><clipPath id="cpv"><use href="#spv"/></clipPath><linearGradient id="shv" gradientUnits="userSpaceOnUse" x1="1248.9499999999998" y1="0" x2="1262.25" y2="0"><stop offset="0" stop-color="#000" stop-opacity="0.22"/><stop offset="0.25" stop-color="#fff" stop-opacity="0.15"/><stop offset="0.5" stop-color="#fff" stop-opacity="0.0"/><stop offset="1" stop-color="#000" stop-opacity="0.3"/></linearGradient></defs>
<rect x="6.00" y="8.50" width="604.30" height="71.10" fill="#00a551" />
<rect x="6.00" y="82.00" width="166.40" height="50.00" fill="#e6e7e8" />
<rect x="6.00" y="134.70" width="166.40" height="102.90" fill="#e6e7e8" />
<rect x="6.00" y="240.60" width="166.40" height="63.00" fill="#e6e7e8" />
<rect x="6.00" y="306.90" width="166.40" height="104.80" fill="#e6e7e8" />
<rect x="174.80" y="82.00" width="435.50" height="50.00" fill="#e6e7e8" />
<rect x="174.80" y="134.70" width="435.50" height="50.60" fill="#e6e7e8" />
<rect x="174.80" y="188.20" width="435.50" height="49.40" fill="#e6e7e8" />
<rect x="174.80" y="240.60" width="435.50" height="63.00" fill="#e6e7e8" />
<rect x="174.80" y="306.90" width="435.50" height="50.00" fill="#e6e7e8" />
<rect x="174.80" y="360.20" width="435.50" height="51.50" fill="#e6e7e8" />
<text x="307.00" y="55.90" font-size="23.6" font-weight="bold" fill="#ffffff" text-anchor="middle" textLength="431" lengthAdjust="spacingAndGlyphs">E28 EMPOHLENER EINSATZBEREICH</text>
<text x="88.70" y="118.40" font-size="19.8" font-weight="normal" fill="#231f20" text-anchor="middle" textLength="84" lengthAdjust="spacingAndGlyphs" stroke="#231f20" stroke-width="0.6">ÖFFNEN</text>
<text x="89.00" y="185.40" font-size="19.8" font-weight="normal" fill="#231f20" text-anchor="middle" textLength="103" lengthAdjust="spacingAndGlyphs" stroke="#231f20" stroke-width="0.6">SCHMALE</text>
<text x="89.50" y="209.20" font-size="19.8" font-weight="normal" fill="#231f20" text-anchor="middle" textLength="82.5" lengthAdjust="spacingAndGlyphs" stroke="#231f20" stroke-width="0.6">KANÄLE</text>
<text x="89.00" y="270.70" font-size="19.8" font-weight="normal" fill="#231f20" text-anchor="middle" textLength="103.5" lengthAdjust="spacingAndGlyphs" stroke="#231f20" stroke-width="0.6">MITTLERE</text>
<text x="89.50" y="294.80" font-size="19.8" font-weight="normal" fill="#231f20" text-anchor="middle" textLength="82.5" lengthAdjust="spacingAndGlyphs" stroke="#231f20" stroke-width="0.6">KANÄLE</text>
<text x="89.10" y="356.50" font-size="19.8" font-weight="normal" fill="#231f20" text-anchor="middle" textLength="73.5" lengthAdjust="spacingAndGlyphs" stroke="#231f20" stroke-width="0.6">BREITE</text>
<text x="89.50" y="381.00" font-size="19.8" font-weight="normal" fill="#231f20" text-anchor="middle" textLength="82.5" lengthAdjust="spacingAndGlyphs" stroke="#231f20" stroke-width="0.6">KANÄLE</text>
<text x="185.20" y="118.30" font-size="21" font-weight="normal" fill="#231f20" text-anchor="start" textLength="64.2" lengthAdjust="spacingAndGlyphs">#01/09</text>
<text x="185.20" y="171.40" font-size="21" font-weight="normal" fill="#231f20" text-anchor="start" textLength="64.2" lengthAdjust="spacingAndGlyphs">#20/04</text>
<text x="185.20" y="224.00" font-size="21" font-weight="normal" fill="#231f20" text-anchor="start" textLength="64.2" lengthAdjust="spacingAndGlyphs">#25/04</text>
<text x="185.20" y="283.40" font-size="21" font-weight="normal" fill="#231f20" text-anchor="start" textLength="64.2" lengthAdjust="spacingAndGlyphs">#30/04</text>
<text x="185.20" y="342.00" font-size="21" font-weight="normal" fill="#231f20" text-anchor="start" textLength="64.2" lengthAdjust="spacingAndGlyphs">#35/04</text>
<text x="185.20" y="394.80" font-size="21" font-weight="normal" fill="#231f20" text-anchor="start" textLength="64.2" lengthAdjust="spacingAndGlyphs">#25/06</text>
<rect x="635.00" y="8.30" width="478.90" height="71.00" fill="#00a551" />
<rect x="635.00" y="81.80" width="105.80" height="39.60" fill="#e6e7e8" />
<rect x="635.00" y="124.00" width="105.80" height="39.40" fill="#e6e7e8" />
<rect x="635.00" y="166.00" width="105.80" height="206.50" fill="#e6e7e8" />
<rect x="743.10" y="81.80" width="129.20" height="39.60" fill="#e6e7e8" />
<rect x="743.10" y="124.00" width="129.20" height="39.40" fill="#e6e7e8" />
<rect x="743.10" y="166.00" width="129.20" height="206.50" fill="#e6e7e8" />
<rect x="874.80" y="81.80" width="128.40" height="39.60" fill="#e6e7e8" />
<rect x="874.80" y="124.00" width="128.40" height="39.40" fill="#e6e7e8" />
<rect x="874.80" y="166.00" width="128.40" height="206.50" fill="#e6e7e8" />
<rect x="1005.80" y="81.80" width="108.10" height="39.60" fill="#e6e7e8" />
<rect x="1005.80" y="124.00" width="108.10" height="39.40" fill="#e6e7e8" />
<rect x="1005.80" y="166.00" width="108.10" height="206.50" fill="#e6e7e8" />
<text x="874.40" y="43.60" font-size="22.6" font-weight="bold" fill="#ffffff" text-anchor="middle" textLength="429.5" lengthAdjust="spacingAndGlyphs">E28 PRO-FLEXI FEILEN CHAMELEON</text>
<text x="874.60" y="67.70" font-size="22.6" font-weight="normal" fill="#ffffff" text-anchor="middle" textLength="251" lengthAdjust="spacingAndGlyphs" stroke="#ffffff" stroke-width="0.3">NiTi Wärmeaktivierung</text>
<text x="687.80" y="107.30" font-size="15.5" font-weight="normal" fill="#231f20" text-anchor="middle" textLength="52.2" lengthAdjust="spacingAndGlyphs" stroke="#231f20" stroke-width="0.42">LÄNGE</text>
<text x="807.80" y="107.30" font-size="15.5" font-weight="normal" fill="#231f20" text-anchor="middle" textLength="53.6" lengthAdjust="spacingAndGlyphs" stroke="#231f20" stroke-width="0.42">GRÖßE</text>
<text x="938.60" y="107.30" font-size="15.5" font-weight="normal" fill="#231f20" text-anchor="middle" textLength="69.2" lengthAdjust="spacingAndGlyphs" stroke="#231f20" stroke-width="0.42">TAPER %</text>
<text x="1059.60" y="107.30" font-size="15.5" font-weight="normal" fill="#231f20" text-anchor="middle" textLength="77.2" lengthAdjust="spacingAndGlyphs" stroke="#231f20" stroke-width="0.42">Spitze mm</text>
<text x="688.40" y="153.80" font-size="21" font-weight="normal" fill="#231f20" text-anchor="middle" textLength="63.6" lengthAdjust="spacingAndGlyphs">19 mm</text>
<text x="688.40" y="248.80" font-size="21" font-weight="normal" fill="#231f20" text-anchor="middle" textLength="63.6" lengthAdjust="spacingAndGlyphs">21 mm</text>
<text x="688.40" y="278.30" font-size="21" font-weight="normal" fill="#231f20" text-anchor="middle">oder</text>
<text x="688.40" y="307.80" font-size="21" font-weight="normal" fill="#231f20" text-anchor="middle" textLength="63.6" lengthAdjust="spacingAndGlyphs">25 mm</text>
<text x="764.30" y="153.80" font-size="21" font-weight="normal" fill="#231f20" text-anchor="start" textLength="65" lengthAdjust="spacingAndGlyphs">#01/09</text>
<circle cx="846.3" cy="146.4" r="11.2" fill="#ffffff"/>
<text x="938.70" y="153.80" font-size="21" font-weight="normal" fill="#231f20" text-anchor="middle">9</text>
<text x="1059.80" y="153.80" font-size="21" font-weight="normal" fill="#231f20" text-anchor="middle" textLength="40" lengthAdjust="spacingAndGlyphs">0,25</text>
<text x="764.30" y="195.50" font-size="21" font-weight="normal" fill="#231f20" text-anchor="start" textLength="65" lengthAdjust="spacingAndGlyphs">#20/04</text>
<circle cx="846.3" cy="188" r="11.2" fill="#fde021"/>
<text x="938.70" y="195.50" font-size="21" font-weight="normal" fill="#231f20" text-anchor="middle">4</text>
<text x="1059.80" y="195.50" font-size="21" font-weight="normal" fill="#231f20" text-anchor="middle" textLength="40" lengthAdjust="spacingAndGlyphs">0,20</text>
<text x="764.30" y="237.20" font-size="21" font-weight="normal" fill="#231f20" text-anchor="start" textLength="65" lengthAdjust="spacingAndGlyphs">#25/04</text>
<circle cx="846.3" cy="229.7" r="11.2" fill="#e21e26"/>
<text x="938.70" y="237.20" font-size="21" font-weight="normal" fill="#231f20" text-anchor="middle">4</text>
<text x="1059.80" y="237.20" font-size="21" font-weight="normal" fill="#231f20" text-anchor="middle" textLength="40" lengthAdjust="spacingAndGlyphs">0,25</text>
<text x="764.30" y="278.90" font-size="21" font-weight="normal" fill="#231f20" text-anchor="start" textLength="65" lengthAdjust="spacingAndGlyphs">#30/04</text>
<circle cx="846.3" cy="271.3" r="11.2" fill="#1f95d3"/>
<text x="938.70" y="278.90" font-size="21" font-weight="normal" fill="#231f20" text-anchor="middle">4</text>
<text x="1059.80" y="278.90" font-size="21" font-weight="normal" fill="#231f20" text-anchor="middle" textLength="40" lengthAdjust="spacingAndGlyphs">0,30</text>
<text x="764.30" y="320.60" font-size="21" font-weight="normal" fill="#231f20" text-anchor="start" textLength="65" lengthAdjust="spacingAndGlyphs">#35/04</text>
<circle cx="846.3" cy="313.1" r="11.2" fill="#00a650"/>
<text x="938.70" y="320.60" font-size="21" font-weight="normal" fill="#231f20" text-anchor="middle">4</text>
<text x="1059.80" y="320.60" font-size="21" font-weight="normal" fill="#231f20" text-anchor="middle" textLength="40" lengthAdjust="spacingAndGlyphs">0,35</text>
<text x="764.30" y="362.30" font-size="21" font-weight="normal" fill="#231f20" text-anchor="start" textLength="65" lengthAdjust="spacingAndGlyphs">#25/06</text>
<circle cx="846.3" cy="354.9" r="11.2" fill="url(#orb)"/>
<text x="938.70" y="362.30" font-size="21" font-weight="normal" fill="#231f20" text-anchor="middle">6</text>
<text x="1059.80" y="362.30" font-size="21" font-weight="normal" fill="#231f20" text-anchor="middle" textLength="40" lengthAdjust="spacingAndGlyphs">0,25</text>
<text x="768.50" y="437.60" font-size="14.5" font-weight="bold" fill="#231f20" text-anchor="middle" textLength="88.5" lengthAdjust="spacingAndGlyphs">Querschnitt</text>
<polygon points="718.4,463.2 833.7,463.2 818.3,508.4 702,508.4" fill="url(#hatch)" stroke="#8a8a8a" stroke-width="1"/>
<line x1="691.8" y1="485.3" x2="845" y2="485.3" stroke="#1f9d60" stroke-width="1.4" stroke-dasharray="8,8"/>
<line x1="768" y1="448.8" x2="768" y2="530" stroke="#1f9d60" stroke-width="1.4" stroke-dasharray="8.6,9.4"/>
<text x="1034.50" y="437.60" font-size="14.5" font-weight="bold" fill="#231f20" text-anchor="middle" textLength="105.4" lengthAdjust="spacingAndGlyphs">sichere Spitze</text>
<circle cx="1035.4" cy="496.1" r="47.6" fill="#fff" stroke="#1a1a1a" stroke-width="1.4"/>
<g filter="url(#bl)">
<path d="M1022,456 C1017,470 1019,490 1021,500 C1023,514 1030,521 1038,521 C1046,521 1051,515 1053,508 C1057,497 1059,488 1057,480 C1055,470 1052,462 1048,455 Z" fill="url(#tipL)"/>
<path d="M1047,455 C1052,462 1055,470 1057,480 C1059,488 1057,497 1053,508 C1048,510 1040,508 1034,503 L1026,499 C1031,488 1040,470 1047,455 Z" fill="url(#tipR)"/>
<path d="M1046.5,457 L1027,498 L1024,497 C1028,482 1038,466 1046.5,457Z" fill="#5a3aa0" opacity="0.35"/>
<path d="M1021.5,502 C1023,513 1029,519.5 1036,520.5 C1030,517 1026,511 1024.5,501 Z" fill="#e0b8e6" opacity="0.8"/>
<ellipse cx="1044" cy="499" rx="6" ry="3" fill="#d8c0e8" opacity="0.55" transform="rotate(-20 1044 499)"/>
</g>
<rect x="1012" y="449.5" width="50" height="19" fill="url(#tipF)" clip-path="url(#tipc)"/>
<rect x="269" y="103.70" width="7.2" height="16.00" rx="2.4" fill="url(#mh)"/>
<rect x="275.5" y="107.40" width="7.5" height="8.6" fill="url(#mh)"/>
<path d="M283.5,103.40 L348.5,103.40 L348.5,120.00 L283.5,120.00 L282,118.00 L282,105.40Z" fill="url(#mh)"/>
<g clip-path="url(#cp1)">
<use href="#sp1" fill="url(#rb1)"/>
<rect x="357.7" y="107.90" width="23.30" height="7.60" fill="url(#sh1)"/>
<path d="M373.60,107.17 L380.44,107.17 L391.24,116.13 L384.40,116.13Z" fill="#1b1464" opacity="0.55"/>
<path d="M392.15,105.98 L398.29,105.98 L407.99,117.23 L401.85,117.23Z" fill="#1b1464" opacity="0.55"/>
<path d="M408.81,106.57 L414.33,106.57 L423.04,116.57 L417.52,116.57Z" fill="#1b1464" opacity="0.55"/>
<path d="M423.77,107.20 L428.73,107.20 L436.55,115.87 L431.60,115.87Z" fill="#1b1464" opacity="0.55"/>
<path d="M437.21,107.83 L441.66,107.83 L448.69,115.18 L444.24,115.18Z" fill="#1b1464" opacity="0.55"/>
<path d="M449.28,108.44 L453.28,108.44 L459.59,114.52 L455.60,114.52Z" fill="#1b1464" opacity="0.55"/>
<path d="M460.13,109.02 L463.72,109.02 L469.39,113.89 L465.80,113.89Z" fill="#1b1464" opacity="0.55"/>
<path d="M469.86,109.56 L473.09,109.56 L478.18,113.30 L474.95,113.30Z" fill="#1b1464" opacity="0.55"/>
<path d="M478.61,110.07 L481.51,110.07 L486.08,112.76 L483.18,112.76Z" fill="#1b1464" opacity="0.55"/>
<path d="M382.60,107.17 L386.56,107.17 L397.36,116.13 L393.40,116.13Z" fill="#ffffff" opacity="0.5"/>
<path d="M400.23,105.98 L403.79,105.98 L413.49,117.23 L409.93,117.23Z" fill="#ffffff" opacity="0.5"/>
<path d="M416.07,106.57 L419.27,106.57 L427.98,116.57 L424.78,116.57Z" fill="#ffffff" opacity="0.5"/>
<path d="M430.29,107.20 L433.16,107.20 L440.99,115.87 L438.12,115.87Z" fill="#ffffff" opacity="0.5"/>
<path d="M443.07,107.83 L445.65,107.83 L452.68,115.18 L450.10,115.18Z" fill="#ffffff" opacity="0.5"/>
<path d="M454.54,108.44 L456.86,108.44 L463.17,114.52 L460.86,114.52Z" fill="#ffffff" opacity="0.5"/>
<path d="M464.85,109.02 L466.93,109.02 L472.60,113.89 L470.52,113.89Z" fill="#ffffff" opacity="0.5"/>
<path d="M474.11,109.56 L475.97,109.56 L481.06,113.30 L479.20,113.30Z" fill="#ffffff" opacity="0.5"/>
<path d="M482.42,110.07 L484.10,110.07 L488.67,112.76 L486.99,112.76Z" fill="#ffffff" opacity="0.5"/>
</g>
<use href="#sp1" fill="none" stroke="#20103a" stroke-opacity="0.28" stroke-width="0.6"/>
<rect x="347.6" y="97.7" width="12.10" height="28.10" rx="3.6" fill="#8faae6"/>
<rect x="348.6" y="98.7" width="5.44" height="26.10" rx="2.5" fill="#fff" opacity="0.18"/>
<rect x="269" y="156.40" width="7.2" height="16.00" rx="2.4" fill="url(#mh)"/>
<rect x="275.5" y="160.10" width="7.5" height="8.6" fill="url(#mh)"/>
<path d="M283.5,156.10 L347.6,156.10 L347.6,172.70 L283.5,172.70 L282,170.70 L282,158.10Z" fill="url(#mh)"/>
<rect x="328" y="155.70" width="11.30" height="17.400000000000002" rx="1.6" fill="#f2d435"/>
<rect x="328.5" y="165.90" width="10.30" height="3.2" fill="#fff" opacity="0.28"/>
<rect x="328.5" y="159.90" width="10.30" height="3" fill="#000" opacity="0.12"/>
<g clip-path="url(#cp2)">
<use href="#sp2" fill="url(#rb2)"/>
<rect x="359.5" y="160.60" width="50.50" height="7.60" fill="url(#sh2)"/>
<rect x="385.50" y="160.60" width="1" height="7.60" fill="#f3e3c8" opacity="0.7"/>
<rect x="390.50" y="160.60" width="1" height="7.60" fill="#f3e3c8" opacity="0.7"/>
<rect x="396.50" y="160.60" width="1" height="7.60" fill="#f3e3c8" opacity="0.7"/>
<rect x="401.50" y="160.60" width="1" height="7.60" fill="#f3e3c8" opacity="0.7"/>
<path d="M403.95,159.50 L409.08,159.50 L417.18,168.46 L412.05,168.46Z" fill="#1b1464" opacity="0.55"/>
<path d="M417.66,159.09 L422.52,159.09 L430.20,168.64 L425.34,168.64Z" fill="#1b1464" opacity="0.55"/>
<path d="M430.66,159.25 L435.27,159.25 L442.55,168.25 L437.94,168.25Z" fill="#1b1464" opacity="0.55"/>
<path d="M442.98,159.45 L447.35,159.45 L454.25,167.84 L449.88,167.84Z" fill="#1b1464" opacity="0.55"/>
<path d="M454.66,159.68 L458.80,159.68 L465.35,167.42 L461.20,167.42Z" fill="#1b1464" opacity="0.55"/>
<path d="M465.73,159.92 L469.66,159.92 L475.86,166.99 L471.94,166.99Z" fill="#1b1464" opacity="0.55"/>
<path d="M476.23,160.16 L479.96,160.16 L485.84,166.57 L482.11,166.57Z" fill="#1b1464" opacity="0.55"/>
<path d="M486.18,160.41 L489.71,160.41 L495.29,166.15 L491.76,166.15Z" fill="#1b1464" opacity="0.55"/>
<path d="M495.62,160.66 L498.97,160.66 L504.25,165.74 L500.90,165.74Z" fill="#1b1464" opacity="0.55"/>
<path d="M504.56,160.91 L507.74,160.91 L512.74,165.34 L509.57,165.34Z" fill="#1b1464" opacity="0.55"/>
<path d="M513.04,161.16 L516.05,161.16 L520.80,164.95 L517.79,164.95Z" fill="#1b1464" opacity="0.55"/>
<path d="M521.08,161.40 L523.93,161.40 L528.43,164.57 L525.58,164.57Z" fill="#1b1464" opacity="0.55"/>
<path d="M528.70,161.63 L531.40,161.63 L535.67,164.21 L532.97,164.21Z" fill="#1b1464" opacity="0.55"/>
<path d="M410.70,159.50 L413.67,159.50 L421.77,168.46 L418.80,168.46Z" fill="#ffffff" opacity="0.5"/>
<path d="M424.06,159.09 L426.88,159.09 L434.55,168.64 L431.74,168.64Z" fill="#ffffff" opacity="0.5"/>
<path d="M436.72,159.25 L439.39,159.25 L446.67,168.25 L444.00,168.25Z" fill="#ffffff" opacity="0.5"/>
<path d="M448.73,159.45 L451.26,159.45 L458.16,167.84 L455.63,167.84Z" fill="#ffffff" opacity="0.5"/>
<path d="M460.11,159.68 L462.51,159.68 L469.05,167.42 L466.65,167.42Z" fill="#ffffff" opacity="0.5"/>
<path d="M470.90,159.92 L473.18,159.92 L479.38,166.99 L477.10,166.99Z" fill="#ffffff" opacity="0.5"/>
<path d="M481.13,160.16 L483.29,160.16 L489.17,166.57 L487.01,166.57Z" fill="#ffffff" opacity="0.5"/>
<path d="M490.83,160.41 L492.87,160.41 L498.45,166.15 L496.40,166.15Z" fill="#ffffff" opacity="0.5"/>
<path d="M500.02,160.66 L501.96,160.66 L507.24,165.74 L505.31,165.74Z" fill="#ffffff" opacity="0.5"/>
<path d="M508.74,160.91 L510.57,160.91 L515.58,165.34 L513.75,165.34Z" fill="#ffffff" opacity="0.5"/>
<path d="M517.00,161.16 L518.74,161.16 L523.49,164.95 L521.75,164.95Z" fill="#ffffff" opacity="0.5"/>
<path d="M524.83,161.40 L526.48,161.40 L530.98,164.57 L529.33,164.57Z" fill="#ffffff" opacity="0.5"/>
<path d="M532.26,161.63 L533.82,161.63 L538.09,164.21 L536.52,164.21Z" fill="#ffffff" opacity="0.5"/>
</g>
<use href="#sp2" fill="none" stroke="#20103a" stroke-opacity="0.28" stroke-width="0.6"/>
<rect x="347.6" y="151" width="13.90" height="26.80" rx="3.6" fill="#f7dc45"/>
<rect x="348.6" y="152" width="6.25" height="24.80" rx="2.5" fill="#fff" opacity="0.18"/>
<rect x="269" y="209.30" width="7.2" height="16.00" rx="2.4" fill="url(#mh)"/>
<rect x="275.5" y="213.00" width="7.5" height="8.6" fill="url(#mh)"/>
<rect x="269" y="209.30" width="7.2" height="16.00" rx="2.4" fill="#fff" opacity="0.85"/>
<rect x="275.5" y="213.00" width="6" height="8.6" fill="#fff" opacity="0.7"/>
<path d="M283.5,209.00 L351.6,209.00 L351.6,225.60 L283.5,225.60 L282,223.60 L282,211.00Z" fill="url(#mh)"/>
<rect x="330.4" y="208.60" width="11.10" height="17.400000000000002" rx="1.6" fill="#e0262b"/>
<rect x="330.9" y="218.80" width="10.10" height="3.2" fill="#fff" opacity="0.28"/>
<rect x="330.9" y="212.80" width="10.10" height="3" fill="#000" opacity="0.12"/>
<g clip-path="url(#cp3)">
<use href="#sp3" fill="url(#rb3)"/>
<rect x="362.3" y="213.50" width="57.70" height="7.60" fill="url(#sh3)"/>
<rect x="375.50" y="213.50" width="1" height="7.60" fill="#f3e3c8" opacity="0.7"/>
<rect x="390.50" y="213.50" width="1" height="7.60" fill="#f3e3c8" opacity="0.7"/>
<rect x="397.80" y="213.50" width="1" height="7.60" fill="#f3e3c8" opacity="0.7"/>
<rect x="406.50" y="213.50" width="1" height="7.60" fill="#f3e3c8" opacity="0.7"/>
<path d="M413.95,212.19 L419.08,212.19 L427.18,221.15 L422.05,221.15Z" fill="#1b1464" opacity="0.55"/>
<path d="M427.67,211.91 L432.52,211.91 L440.19,221.14 L435.33,221.14Z" fill="#1b1464" opacity="0.55"/>
<path d="M440.65,212.03 L445.25,212.03 L452.51,220.72 L447.91,220.72Z" fill="#1b1464" opacity="0.55"/>
<path d="M452.94,212.20 L457.30,212.20 L464.17,220.29 L459.82,220.29Z" fill="#1b1464" opacity="0.55"/>
<path d="M464.58,212.39 L468.70,212.39 L475.21,219.84 L471.09,219.84Z" fill="#1b1464" opacity="0.55"/>
<path d="M475.60,212.59 L479.50,212.59 L485.66,219.39 L481.76,219.39Z" fill="#1b1464" opacity="0.55"/>
<path d="M486.03,212.81 L489.73,212.81 L495.56,218.94 L491.86,218.94Z" fill="#1b1464" opacity="0.55"/>
<path d="M495.91,213.02 L499.40,213.02 L504.92,218.51 L501.43,218.51Z" fill="#1b1464" opacity="0.55"/>
<path d="M505.26,213.24 L508.57,213.24 L513.79,218.08 L510.48,218.08Z" fill="#1b1464" opacity="0.55"/>
<path d="M514.11,213.46 L517.24,213.46 L522.19,217.66 L519.06,217.66Z" fill="#1b1464" opacity="0.55"/>
<path d="M522.49,213.68 L525.45,213.68 L530.14,217.26 L527.17,217.26Z" fill="#1b1464" opacity="0.55"/>
<path d="M530.42,213.89 L533.23,213.89 L537.66,216.87 L534.86,216.87Z" fill="#1b1464" opacity="0.55"/>
<path d="M420.70,212.19 L423.67,212.19 L431.77,221.15 L428.80,221.15Z" fill="#ffffff" opacity="0.5"/>
<path d="M434.06,211.91 L436.87,211.91 L444.54,221.14 L441.72,221.14Z" fill="#ffffff" opacity="0.5"/>
<path d="M446.70,212.03 L449.36,212.03 L456.62,220.72 L453.96,220.72Z" fill="#ffffff" opacity="0.5"/>
<path d="M458.67,212.20 L461.19,212.20 L468.06,220.29 L465.54,220.29Z" fill="#ffffff" opacity="0.5"/>
<path d="M470.00,212.39 L472.39,212.39 L478.90,219.84 L476.51,219.84Z" fill="#ffffff" opacity="0.5"/>
<path d="M480.73,212.59 L482.99,212.59 L489.15,219.39 L486.89,219.39Z" fill="#ffffff" opacity="0.5"/>
<path d="M490.89,212.81 L493.03,212.81 L498.86,218.94 L496.72,218.94Z" fill="#ffffff" opacity="0.5"/>
<path d="M500.51,213.02 L502.53,213.02 L508.05,218.51 L506.03,218.51Z" fill="#ffffff" opacity="0.5"/>
<path d="M509.61,213.24 L511.53,213.24 L516.76,218.08 L514.84,218.08Z" fill="#ffffff" opacity="0.5"/>
<path d="M518.23,213.46 L520.05,213.46 L524.99,217.66 L523.18,217.66Z" fill="#ffffff" opacity="0.5"/>
<path d="M526.39,213.68 L528.11,213.68 L532.79,217.26 L531.08,217.26Z" fill="#ffffff" opacity="0.5"/>
<path d="M534.12,213.89 L535.74,213.89 L540.18,216.87 L538.55,216.87Z" fill="#ffffff" opacity="0.5"/>
</g>
<use href="#sp3" fill="none" stroke="#20103a" stroke-opacity="0.28" stroke-width="0.6"/>
<rect x="351.4" y="204.2" width="12.90" height="26.50" rx="3.6" fill="#f0503c"/>
<rect x="352.4" y="205.2" width="5.81" height="24.50" rx="2.5" fill="#fff" opacity="0.18"/>
<rect x="269" y="268.50" width="7.2" height="16.00" rx="2.4" fill="url(#mh)"/>
<rect x="275.5" y="272.20" width="7.5" height="8.6" fill="url(#mh)"/>
<rect x="269" y="268.50" width="7.2" height="10.29" rx="2.4" fill="#2a1c14" opacity="0.6"/>
<rect x="275.5" y="272.20" width="7.5" height="6" fill="#2a1c14" opacity="0.6"/>
<path d="M283.5,268.20 L351.6,268.20 L351.6,284.80 L283.5,284.80 L282,282.80 L282,270.20Z" fill="url(#mh)"/>
<rect x="328.5" y="267.80" width="11.70" height="17.400000000000002" rx="1.6" fill="#2a5cb8"/>
<rect x="329.0" y="278.00" width="10.70" height="3.2" fill="#fff" opacity="0.28"/>
<rect x="329.0" y="272.00" width="10.70" height="3" fill="#000" opacity="0.12"/>
<g clip-path="url(#cp4)">
<use href="#sp4" fill="url(#rb4)"/>
<rect x="361.7" y="272.70" width="59.30" height="7.60" fill="url(#sh4)"/>
<rect x="374.90" y="272.70" width="1" height="7.60" fill="#f3e3c8" opacity="0.7"/>
<rect x="389.90" y="272.70" width="1" height="7.60" fill="#f3e3c8" opacity="0.7"/>
<rect x="398.10" y="272.70" width="1" height="7.60" fill="#f3e3c8" opacity="0.7"/>
<rect x="405.70" y="272.70" width="1" height="7.60" fill="#f3e3c8" opacity="0.7"/>
<path d="M414.95,271.54 L420.08,271.54 L428.18,280.50 L423.05,280.50Z" fill="#1b1464" opacity="0.55"/>
<path d="M428.67,271.14 L433.52,271.14 L441.19,280.67 L436.33,280.67Z" fill="#1b1464" opacity="0.55"/>
<path d="M441.65,271.32 L446.24,271.32 L453.50,280.28 L448.90,280.28Z" fill="#1b1464" opacity="0.55"/>
<path d="M453.93,271.53 L458.28,271.53 L465.14,279.86 L460.80,279.86Z" fill="#1b1464" opacity="0.55"/>
<path d="M465.56,271.77 L469.67,271.77 L476.16,279.42 L472.05,279.42Z" fill="#1b1464" opacity="0.55"/>
<path d="M476.55,272.03 L480.45,272.03 L486.59,278.99 L482.70,278.99Z" fill="#1b1464" opacity="0.55"/>
<path d="M486.96,272.29 L490.65,272.29 L496.46,278.56 L492.78,278.56Z" fill="#1b1464" opacity="0.55"/>
<path d="M496.81,272.55 L500.30,272.55 L505.80,278.13 L502.31,278.13Z" fill="#1b1464" opacity="0.55"/>
<path d="M506.13,272.81 L509.43,272.81 L514.64,277.71 L511.34,277.71Z" fill="#1b1464" opacity="0.55"/>
<path d="M514.95,273.07 L518.07,273.07 L523.00,277.31 L519.88,277.31Z" fill="#1b1464" opacity="0.55"/>
<path d="M523.30,273.33 L526.25,273.33 L530.91,276.91 L527.96,276.91Z" fill="#1b1464" opacity="0.55"/>
<path d="M531.19,273.58 L533.99,273.58 L538.40,276.53 L535.61,276.53Z" fill="#1b1464" opacity="0.55"/>
<path d="M421.70,271.54 L424.67,271.54 L432.77,280.50 L429.80,280.50Z" fill="#ffffff" opacity="0.5"/>
<path d="M435.05,271.14 L437.87,271.14 L445.53,280.67 L442.72,280.67Z" fill="#ffffff" opacity="0.5"/>
<path d="M447.69,271.32 L450.35,271.32 L457.61,280.28 L454.95,280.28Z" fill="#ffffff" opacity="0.5"/>
<path d="M459.65,271.53 L462.17,271.53 L469.03,279.86 L466.51,279.86Z" fill="#ffffff" opacity="0.5"/>
<path d="M470.97,271.77 L473.35,271.77 L479.84,279.42 L477.46,279.42Z" fill="#ffffff" opacity="0.5"/>
<path d="M481.68,272.03 L483.93,272.03 L490.08,278.99 L487.82,278.99Z" fill="#ffffff" opacity="0.5"/>
<path d="M491.81,272.29 L493.94,272.29 L499.76,278.56 L497.62,278.56Z" fill="#ffffff" opacity="0.5"/>
<path d="M501.40,272.55 L503.42,272.55 L508.92,278.13 L506.90,278.13Z" fill="#ffffff" opacity="0.5"/>
<path d="M510.47,272.81 L512.38,272.81 L517.59,277.71 L515.68,277.71Z" fill="#ffffff" opacity="0.5"/>
<path d="M519.06,273.07 L520.86,273.07 L525.79,277.31 L523.99,277.31Z" fill="#ffffff" opacity="0.5"/>
<path d="M527.18,273.33 L528.89,273.33 L533.56,276.91 L531.85,276.91Z" fill="#ffffff" opacity="0.5"/>
<path d="M534.87,273.58 L536.49,273.58 L540.90,276.53 L539.28,276.53Z" fill="#ffffff" opacity="0.5"/>
</g>
<use href="#sp4" fill="none" stroke="#20103a" stroke-opacity="0.28" stroke-width="0.6"/>
<rect x="351.4" y="263" width="12.30" height="26.60" rx="3.6" fill="#8faae6"/>
<rect x="352.4" y="264" width="5.54" height="24.60" rx="2.5" fill="#fff" opacity="0.18"/>
<rect x="269" y="327.60" width="7.2" height="16.00" rx="2.4" fill="url(#mh)"/>
<rect x="275.5" y="331.30" width="7.5" height="8.6" fill="url(#mh)"/>
<rect x="269" y="327.60" width="7.2" height="10.29" rx="2.4" fill="#2a1c14" opacity="0.3"/>
<rect x="275.5" y="331.30" width="7.5" height="6" fill="#2a1c14" opacity="0.3"/>
<path d="M283.5,327.30 L349.2,327.30 L349.2,343.90 L283.5,343.90 L282,341.90 L282,329.30Z" fill="url(#mh)"/>
<rect x="329.1" y="326.90" width="10.70" height="17.400000000000002" rx="1.6" fill="#0a7a4a"/>
<rect x="329.6" y="337.10" width="9.70" height="3.2" fill="#fff" opacity="0.28"/>
<rect x="329.6" y="331.10" width="9.70" height="3" fill="#000" opacity="0.12"/>
<g clip-path="url(#cp5)">
<use href="#sp5" fill="url(#rb5)"/>
<rect x="361.6" y="331.40" width="51.40" height="8.40" fill="url(#sh5)"/>
<rect x="371.50" y="331.40" width="1" height="8.40" fill="#f3e3c8" opacity="0.7"/>
<rect x="379.50" y="331.40" width="1" height="8.40" fill="#f3e3c8" opacity="0.7"/>
<rect x="387.50" y="331.40" width="1" height="8.40" fill="#f3e3c8" opacity="0.7"/>
<rect x="395.50" y="331.40" width="1" height="8.40" fill="#f3e3c8" opacity="0.7"/>
<path d="M406.95,329.64 L412.08,329.64 L420.18,339.88 L415.05,339.88Z" fill="#1b1464" opacity="0.55"/>
<path d="M420.66,329.90 L425.52,329.90 L433.21,339.15 L428.34,339.15Z" fill="#1b1464" opacity="0.55"/>
<path d="M433.66,329.94 L438.28,329.94 L445.56,338.67 L440.95,338.67Z" fill="#1b1464" opacity="0.55"/>
<path d="M445.99,330.02 L450.37,330.02 L457.28,338.17 L452.90,338.17Z" fill="#1b1464" opacity="0.55"/>
<path d="M457.69,330.13 L461.84,330.13 L468.39,337.67 L464.24,337.67Z" fill="#1b1464" opacity="0.55"/>
<path d="M468.78,330.26 L472.71,330.26 L478.93,337.17 L474.99,337.17Z" fill="#1b1464" opacity="0.55"/>
<path d="M479.30,330.40 L483.03,330.40 L488.93,336.67 L485.19,336.67Z" fill="#1b1464" opacity="0.55"/>
<path d="M489.27,330.55 L492.81,330.55 L498.41,336.18 L494.86,336.18Z" fill="#1b1464" opacity="0.55"/>
<path d="M498.74,330.71 L502.09,330.71 L507.40,335.71 L504.04,335.71Z" fill="#1b1464" opacity="0.55"/>
<path d="M507.71,330.87 L510.90,330.87 L515.92,335.25 L512.74,335.25Z" fill="#1b1464" opacity="0.55"/>
<path d="M516.22,331.02 L519.24,331.02 L524.01,334.81 L520.99,334.81Z" fill="#1b1464" opacity="0.55"/>
<path d="M524.29,331.18 L527.16,331.18 L531.68,334.38 L528.82,334.38Z" fill="#1b1464" opacity="0.55"/>
<path d="M531.95,331.34 L534.67,331.34 L538.96,333.96 L536.24,333.96Z" fill="#1b1464" opacity="0.55"/>
<path d="M413.70,329.64 L416.67,329.64 L424.77,339.88 L421.80,339.88Z" fill="#ffffff" opacity="0.5"/>
<path d="M427.06,329.90 L429.88,329.90 L437.56,339.15 L434.74,339.15Z" fill="#ffffff" opacity="0.5"/>
<path d="M439.73,329.94 L442.40,329.94 L449.69,338.67 L447.02,338.67Z" fill="#ffffff" opacity="0.5"/>
<path d="M451.75,330.02 L454.28,330.02 L461.19,338.17 L458.66,338.17Z" fill="#ffffff" opacity="0.5"/>
<path d="M463.15,330.13 L465.55,330.13 L472.10,337.67 L469.70,337.67Z" fill="#ffffff" opacity="0.5"/>
<path d="M473.96,330.26 L476.24,330.26 L482.45,337.17 L480.17,337.17Z" fill="#ffffff" opacity="0.5"/>
<path d="M484.21,330.40 L486.37,330.40 L492.27,336.67 L490.10,336.67Z" fill="#ffffff" opacity="0.5"/>
<path d="M493.93,330.55 L495.98,330.55 L501.57,336.18 L499.52,336.18Z" fill="#ffffff" opacity="0.5"/>
<path d="M503.15,330.71 L505.10,330.71 L510.40,335.71 L508.46,335.71Z" fill="#ffffff" opacity="0.5"/>
<path d="M511.90,330.87 L513.74,330.87 L518.77,335.25 L516.93,335.25Z" fill="#ffffff" opacity="0.5"/>
<path d="M520.20,331.02 L521.94,331.02 L526.71,334.81 L524.96,334.81Z" fill="#ffffff" opacity="0.5"/>
<path d="M528.06,331.18 L529.72,331.18 L534.24,334.38 L532.59,334.38Z" fill="#ffffff" opacity="0.5"/>
<path d="M535.52,331.34 L537.10,331.34 L541.39,333.96 L539.81,333.96Z" fill="#ffffff" opacity="0.5"/>
</g>
<use href="#sp5" fill="none" stroke="#20103a" stroke-opacity="0.28" stroke-width="0.6"/>
<rect x="348.9" y="321" width="14.70" height="28.60" rx="3.6" fill="#2fb457"/>
<rect x="349.9" y="322" width="6.62" height="26.60" rx="2.5" fill="#fff" opacity="0.18"/>
<rect x="269" y="379.30" width="7.2" height="16.00" rx="2.4" fill="url(#mh)"/>
<rect x="275.5" y="383.00" width="7.5" height="8.6" fill="url(#mh)"/>
<rect x="269" y="379.30" width="7.2" height="10.29" rx="2.4" fill="#2a1c14" opacity="0.25"/>
<rect x="275.5" y="383.00" width="7.5" height="6" fill="#2a1c14" opacity="0.25"/>
<path d="M283.5,379.00 L349.8,379.00 L349.8,395.60 L283.5,395.60 L282,393.60 L282,381.00Z" fill="url(#mh)"/>
<rect x="329.1" y="378.60" width="12.40" height="17.400000000000002" rx="1.6" fill="#e0262b"/>
<rect x="329.6" y="388.80" width="11.40" height="3.2" fill="#fff" opacity="0.28"/>
<rect x="329.6" y="382.80" width="11.40" height="3" fill="#000" opacity="0.12"/>
<g clip-path="url(#cp6)">
<use href="#sp6" fill="url(#rb6)"/>
<rect x="361.7" y="383.50" width="57.30" height="7.60" fill="url(#sh6)"/>
<rect x="373.70" y="383.50" width="1" height="7.60" fill="#f3e3c8" opacity="0.7"/>
<rect x="389.70" y="383.50" width="1" height="7.60" fill="#f3e3c8" opacity="0.7"/>
<rect x="397.20" y="383.50" width="1" height="7.60" fill="#f3e3c8" opacity="0.7"/>
<rect x="404.50" y="383.50" width="1" height="7.60" fill="#f3e3c8" opacity="0.7"/>
<path d="M412.95,382.35 L418.08,382.35 L426.18,391.31 L421.05,391.31Z" fill="#1b1464" opacity="0.55"/>
<path d="M426.67,381.80 L431.52,381.80 L439.19,391.64 L434.33,391.64Z" fill="#1b1464" opacity="0.55"/>
<path d="M439.65,381.98 L444.25,381.98 L451.51,391.24 L446.91,391.24Z" fill="#1b1464" opacity="0.55"/>
<path d="M451.94,382.21 L456.30,382.21 L463.17,390.80 L458.82,390.80Z" fill="#1b1464" opacity="0.55"/>
<path d="M463.58,382.46 L467.70,382.46 L474.21,390.36 L470.09,390.36Z" fill="#1b1464" opacity="0.55"/>
<path d="M474.60,382.73 L478.50,382.73 L484.66,389.91 L480.76,389.91Z" fill="#1b1464" opacity="0.55"/>
<path d="M485.03,383.00 L488.73,383.00 L494.56,389.47 L490.86,389.47Z" fill="#1b1464" opacity="0.55"/>
<path d="M494.91,383.27 L498.40,383.27 L503.92,389.03 L500.43,389.03Z" fill="#1b1464" opacity="0.55"/>
<path d="M504.26,383.55 L507.57,383.55 L512.79,388.60 L509.48,388.60Z" fill="#1b1464" opacity="0.55"/>
<path d="M513.11,383.82 L516.24,383.82 L521.19,388.18 L518.06,388.18Z" fill="#1b1464" opacity="0.55"/>
<path d="M521.49,384.09 L524.45,384.09 L529.14,387.77 L526.17,387.77Z" fill="#1b1464" opacity="0.55"/>
<path d="M529.42,384.35 L532.23,384.35 L536.66,387.38 L533.86,387.38Z" fill="#1b1464" opacity="0.55"/>
<path d="M419.70,382.35 L422.67,382.35 L430.77,391.31 L427.80,391.31Z" fill="#ffffff" opacity="0.5"/>
<path d="M433.06,381.80 L435.87,381.80 L443.54,391.64 L440.72,391.64Z" fill="#ffffff" opacity="0.5"/>
<path d="M445.70,381.98 L448.36,381.98 L455.62,391.24 L452.96,391.24Z" fill="#ffffff" opacity="0.5"/>
<path d="M457.67,382.21 L460.19,382.21 L467.06,390.80 L464.54,390.80Z" fill="#ffffff" opacity="0.5"/>
<path d="M469.00,382.46 L471.39,382.46 L477.90,390.36 L475.51,390.36Z" fill="#ffffff" opacity="0.5"/>
<path d="M479.73,382.73 L481.99,382.73 L488.15,389.91 L485.89,389.91Z" fill="#ffffff" opacity="0.5"/>
<path d="M489.89,383.00 L492.03,383.00 L497.86,389.47 L495.72,389.47Z" fill="#ffffff" opacity="0.5"/>
<path d="M499.51,383.27 L501.53,383.27 L507.05,389.03 L505.03,389.03Z" fill="#ffffff" opacity="0.5"/>
<path d="M508.61,383.55 L510.53,383.55 L515.76,388.60 L513.84,388.60Z" fill="#ffffff" opacity="0.5"/>
<path d="M517.23,383.82 L519.05,383.82 L523.99,388.18 L522.18,388.18Z" fill="#ffffff" opacity="0.5"/>
<path d="M525.39,384.09 L527.11,384.09 L531.79,387.77 L530.08,387.77Z" fill="#ffffff" opacity="0.5"/>
<path d="M533.12,384.35 L534.74,384.35 L539.18,387.38 L537.55,387.38Z" fill="#ffffff" opacity="0.5"/>
</g>
<use href="#sp6" fill="none" stroke="#20103a" stroke-opacity="0.28" stroke-width="0.6"/>
<rect x="349.5" y="373" width="14.20" height="27.80" rx="3.6" fill="#f0503c"/>
<rect x="350.5" y="374" width="6.39" height="25.80" rx="2.5" fill="#fff" opacity="0.18"/>
<path d="M1242.5,4.2 L1271,4.2 Q1273.5,4.2 1273.5,6.5 L1273.5,10.5 Q1273.5,13 1271,13 L1267,13 L1267,25 L1272.6,28 L1272.6,116 L1240.2,116 L1240.2,28 L1246.8,25 L1246.8,13 L1242.5,13 Q1239.8,13 1239.8,10.5 L1239.8,6.5 Q1239.8,4.2 1242.5,4.2Z" fill="url(#mv)" stroke="#8a6656" stroke-opacity="0.55" stroke-width="0.6"/>
<rect x="1239.6" y="114.5" width="33.6" height="23.5" rx="2.6" fill="#f0de3a"/>
<rect x="1244" y="115" width="8" height="22.5" fill="#fff" opacity="0.3"/>
<rect x="1260" y="115" width="8" height="22.5" fill="#7a5a00" opacity="0.15"/>
<path d="M1241,137.6 L1272,137.6 L1271.5,146 L1267,153 L1246,153 L1241.5,146 Z" fill="url(#mv)"/>
<g clip-path="url(#cpv)">
<use href="#spv" fill="url(#rbv)"/>
<rect x="1247.95" y="172" width="15.30" height="118.00" fill="url(#shv)"/>
<rect x="1248" y="172" width="7.5" height="80" fill="url(#sdL)"/><rect x="1257" y="172" width="8" height="120" fill="url(#sdR)"/>
<rect x="1247.95" y="203.70" width="15.30" height="1.6" fill="#f3e3c8" opacity="0.75"/>
<rect x="1247.95" y="230.90" width="15.30" height="1.6" fill="#f3e3c8" opacity="0.75"/>
<rect x="1247.95" y="245.20" width="15.30" height="1.6" fill="#f3e3c8" opacity="0.75"/>
<rect x="1247.95" y="258.20" width="15.30" height="1.6" fill="#f3e3c8" opacity="0.75"/>
<path d="M1246.20,278.20 L1246.20,288.84 L1267.48,308.44 L1267.48,297.80Z" fill="#2a1a7a" opacity="0.5"/>
<path d="M1247.07,307.10 L1247.07,316.76 L1267.22,334.57 L1267.22,324.90Z" fill="#2a1a7a" opacity="0.5"/>
<path d="M1248.13,333.35 L1248.13,342.13 L1266.70,358.30 L1266.70,349.52Z" fill="#2a1a7a" opacity="0.5"/>
<path d="M1249.23,357.19 L1249.23,365.16 L1266.10,379.85 L1266.10,371.88Z" fill="#2a1a7a" opacity="0.5"/>
<path d="M1250.31,378.84 L1250.31,386.09 L1265.47,399.43 L1265.47,392.18Z" fill="#2a1a7a" opacity="0.5"/>
<path d="M1251.34,398.51 L1251.34,405.09 L1264.84,417.21 L1264.84,410.63Z" fill="#2a1a7a" opacity="0.5"/>
<path d="M1252.33,416.38 L1252.33,422.35 L1264.23,433.36 L1264.23,427.38Z" fill="#2a1a7a" opacity="0.5"/>
<path d="M1253.26,432.61 L1253.26,438.03 L1263.64,448.03 L1263.64,442.60Z" fill="#2a1a7a" opacity="0.5"/>
<path d="M1254.12,447.35 L1254.12,452.27 L1263.08,461.35 L1263.08,456.43Z" fill="#2a1a7a" opacity="0.5"/>
<path d="M1254.93,460.73 L1254.93,465.21 L1262.55,473.46 L1262.55,468.98Z" fill="#2a1a7a" opacity="0.5"/>
<path d="M1255.68,472.89 L1255.68,476.96 L1262.06,484.45 L1262.06,480.38Z" fill="#2a1a7a" opacity="0.5"/>
<path d="M1256.37,483.94 L1256.37,487.63 L1261.59,494.44 L1261.59,490.74Z" fill="#2a1a7a" opacity="0.5"/>
<path d="M1257.01,493.97 L1257.01,497.32 L1261.17,503.50 L1261.17,500.15Z" fill="#2a1a7a" opacity="0.5"/>
<path d="M1257.59,503.08 L1257.59,506.13 L1260.77,511.74 L1260.77,508.69Z" fill="#2a1a7a" opacity="0.5"/>
<path d="M1258.13,511.36 L1258.13,514.13 L1260.40,519.22 L1260.40,516.46Z" fill="#2a1a7a" opacity="0.5"/>
<path d="M1246.20,292.20 L1246.20,298.36 L1267.48,317.96 L1267.48,311.80Z" fill="#ffffff" opacity="0.45"/>
<path d="M1247.07,319.81 L1247.07,325.41 L1267.22,343.21 L1267.22,337.62Z" fill="#ffffff" opacity="0.45"/>
<path d="M1248.13,344.90 L1248.13,349.98 L1266.70,366.15 L1266.70,361.07Z" fill="#ffffff" opacity="0.45"/>
<path d="M1249.23,367.68 L1249.23,372.30 L1266.10,386.98 L1266.10,382.37Z" fill="#ffffff" opacity="0.45"/>
<path d="M1250.31,388.37 L1250.31,392.57 L1265.47,405.91 L1265.47,401.71Z" fill="#ffffff" opacity="0.45"/>
<path d="M1251.34,407.17 L1251.34,410.98 L1264.84,423.09 L1264.84,419.29Z" fill="#ffffff" opacity="0.45"/>
<path d="M1252.33,424.24 L1252.33,427.70 L1264.23,438.71 L1264.23,435.25Z" fill="#ffffff" opacity="0.45"/>
<path d="M1253.26,439.75 L1253.26,442.89 L1263.64,452.88 L1263.64,449.74Z" fill="#ffffff" opacity="0.45"/>
<path d="M1254.12,453.83 L1254.12,456.68 L1263.08,465.76 L1263.08,462.91Z" fill="#ffffff" opacity="0.45"/>
<path d="M1254.93,466.62 L1254.93,469.22 L1262.55,477.46 L1262.55,474.87Z" fill="#ffffff" opacity="0.45"/>
<path d="M1255.68,478.24 L1255.68,480.60 L1262.06,488.09 L1262.06,485.73Z" fill="#ffffff" opacity="0.45"/>
<path d="M1256.37,488.80 L1256.37,490.94 L1261.59,497.74 L1261.59,495.60Z" fill="#ffffff" opacity="0.45"/>
<path d="M1257.01,498.38 L1257.01,500.33 L1261.17,506.51 L1261.17,504.56Z" fill="#ffffff" opacity="0.45"/>
<path d="M1257.59,507.09 L1257.59,508.86 L1260.77,514.47 L1260.77,512.70Z" fill="#ffffff" opacity="0.45"/>
<path d="M1258.13,515.00 L1258.13,516.60 L1260.40,521.70 L1260.40,520.10Z" fill="#ffffff" opacity="0.45"/>
</g>
<use href="#spv" fill="none" stroke="#20103a" stroke-opacity="0.28" stroke-width="0.6"/>
<path d="M1229,160 Q1229,154.3 1255.2,154.3 Q1281.5,154.3 1281.5,160 L1281.5,171.5 Q1281.5,179.6 1255.2,179.6 Q1229,179.6 1229,171.5 Z" fill="#f0dc48"/>
<ellipse cx="1255.2" cy="160.6" rx="26" ry="6.2" fill="#f8ec8c"/>
<path d="M1258.8,155 L1260.4,155 L1258.6,179.4 L1257,179.4Z" fill="#3a2a10" opacity="0.85"/>
<ellipse cx="1256" cy="155.5" rx="11" ry="2.2" fill="#8a6a5c" opacity="0.9"/>
</svg>
</body></html>
